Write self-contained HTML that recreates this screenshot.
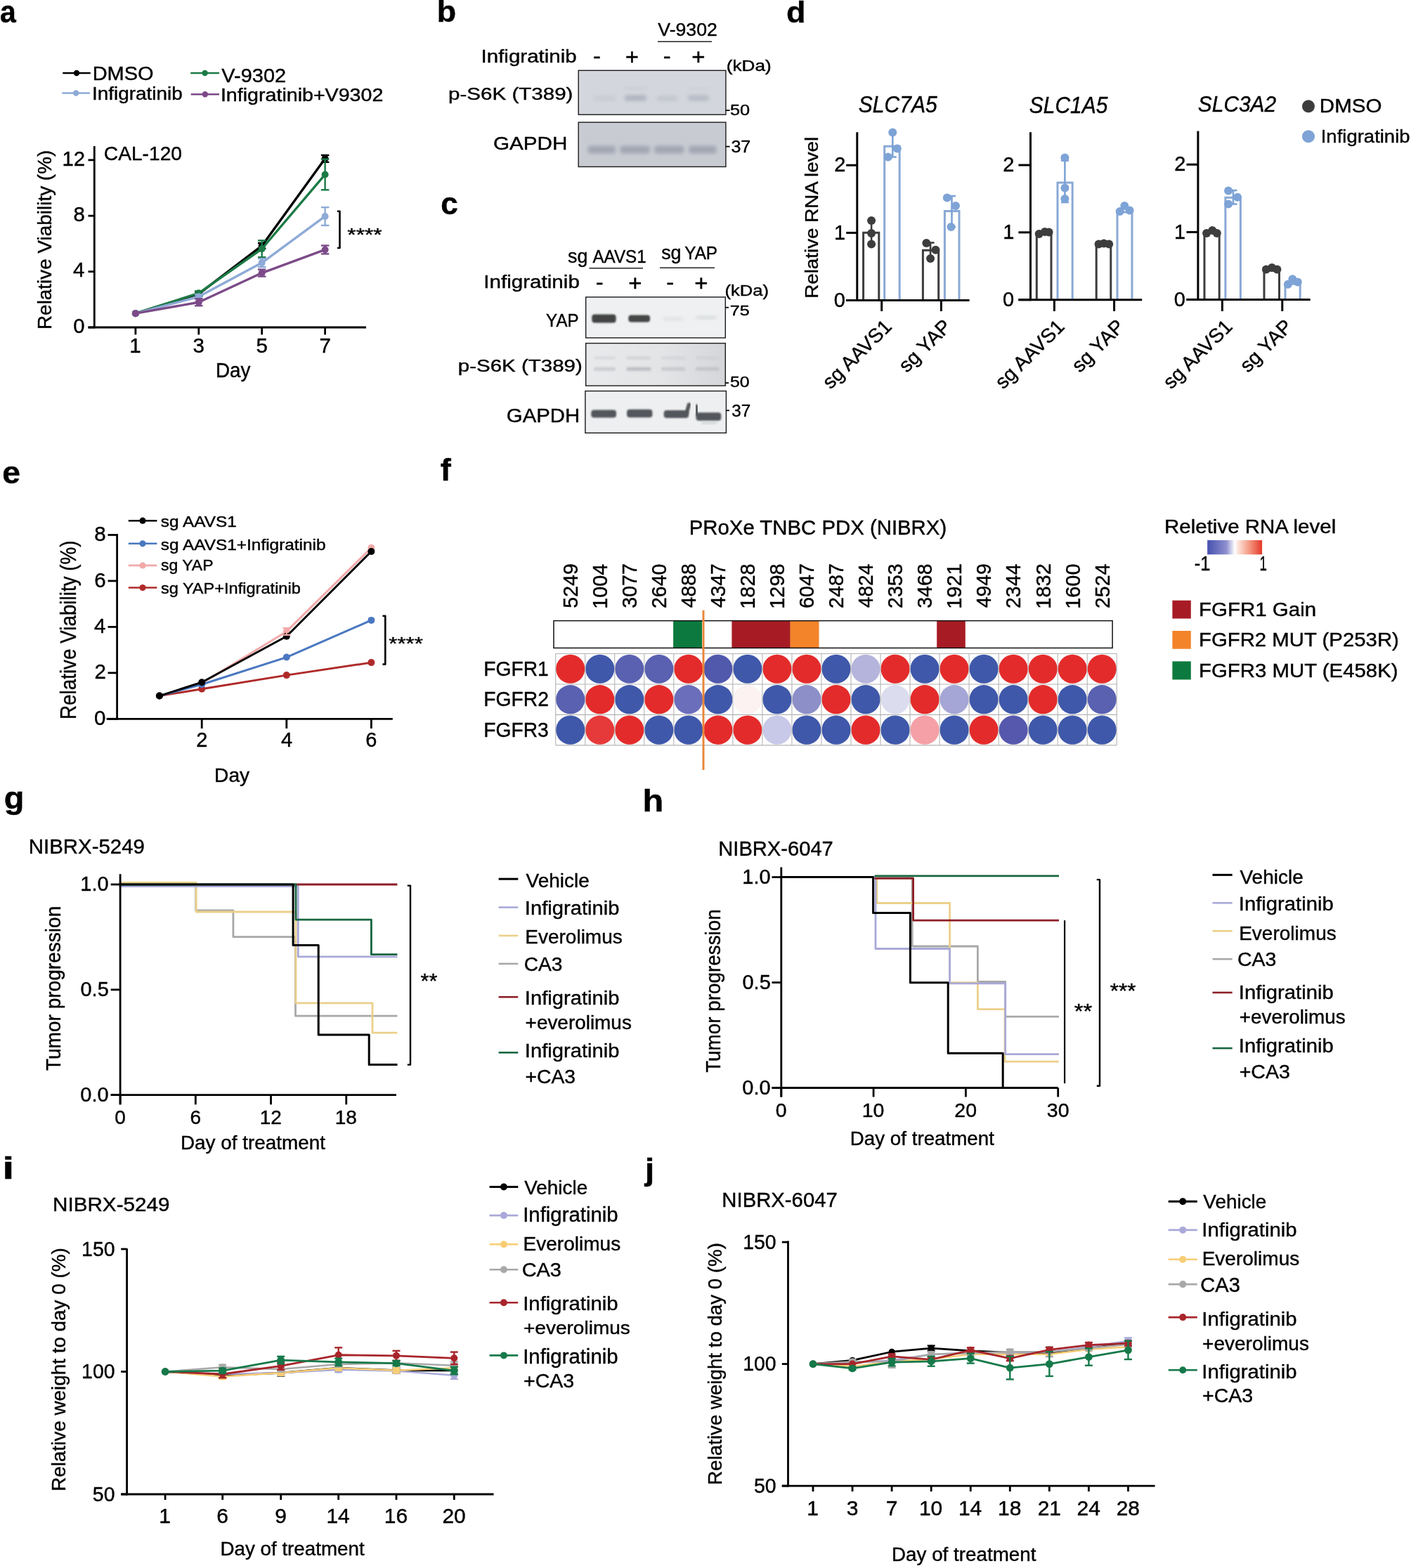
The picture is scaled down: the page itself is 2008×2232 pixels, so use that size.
<!DOCTYPE html>
<html><head><meta charset="utf-8"><style>
html,body{margin:0;padding:0;background:#fff;}
svg{display:block;}
text{font-family:"Liberation Sans", sans-serif;stroke:#000;stroke-width:0.4px;}
</style></head><body>
<svg width="2008" height="2232" viewBox="0 0 2008 2232">
<defs>
<filter id="bl05" x="-50%" y="-50%" width="200%" height="200%"><feGaussianBlur stdDeviation="0.8"/></filter>
<filter id="bl1" x="-50%" y="-50%" width="200%" height="200%"><feGaussianBlur stdDeviation="1.6"/></filter>
<filter id="bl2" x="-50%" y="-50%" width="200%" height="200%"><feGaussianBlur stdDeviation="2.5"/></filter>
<linearGradient id="cbar" x1="0" x2="1" y1="0" y2="0">
<stop offset="0" stop-color="#4650ad"/><stop offset="0.35" stop-color="#8f90d0"/><stop offset="0.5" stop-color="#ffffff"/><stop offset="0.56" stop-color="#fde4dc"/><stop offset="0.78" stop-color="#f3937c"/><stop offset="1" stop-color="#e4382a"/>
</linearGradient>
</defs>
<rect width="2008" height="2232" fill="#fff"/>
<text transform="translate(-0.03,31.56) scale(0.9342,1)" font-size="43.82" font-weight="bold" fill="#000">a</text>
<line x1="89.2" y1="104" x2="128.8" y2="104" stroke="#000" stroke-width="2.6" stroke-linecap="butt"/>
<circle cx="109" cy="104" r="4.2" fill="#000"/>
<line x1="271.2" y1="104" x2="312" y2="104" stroke="#1b7a45" stroke-width="2.6" stroke-linecap="butt"/>
<circle cx="291.6" cy="104" r="4.2" fill="#1b7a45"/>
<line x1="88.4" y1="132.5" x2="128" y2="132.5" stroke="#8eaad6" stroke-width="2.6" stroke-linecap="butt"/>
<circle cx="108.2" cy="132.5" r="4.2" fill="#8eaad6"/>
<line x1="271.7" y1="134.3" x2="312" y2="134.3" stroke="#7c4a88" stroke-width="2.6" stroke-linecap="butt"/>
<circle cx="291.85" cy="134.3" r="4.2" fill="#7c4a88"/>
<text transform="translate(131.68,113.5) scale(1.0502,1)" font-size="27.57" fill="#000">DMSO</text>
<text transform="translate(315.36,117.4) scale(1.0289,1)" font-size="28.14" fill="#000">V-9302</text>
<text transform="translate(130.99,141.7) scale(1.0660,1)" font-size="26.21" fill="#000">Infigratinib</text>
<text transform="translate(313.92,143.5) scale(1.0982,1)" font-size="26.07" fill="#000">Infigratinib+V9302</text>
<line x1="134.3" y1="208" x2="134.3" y2="467.3" stroke="#000" stroke-width="2.8" stroke-linecap="butt"/>
<line x1="125.5" y1="466" x2="521" y2="466" stroke="#000" stroke-width="2.8" stroke-linecap="butt"/>
<line x1="125.5" y1="466" x2="134.3" y2="466" stroke="#000" stroke-width="2.8" stroke-linecap="butt"/>
<line x1="125.5" y1="386.6" x2="134.3" y2="386.6" stroke="#000" stroke-width="2.8" stroke-linecap="butt"/>
<line x1="125.5" y1="307.2" x2="134.3" y2="307.2" stroke="#000" stroke-width="2.8" stroke-linecap="butt"/>
<line x1="125.5" y1="227.8" x2="134.3" y2="227.8" stroke="#000" stroke-width="2.8" stroke-linecap="butt"/>
<line x1="192.9" y1="466" x2="192.9" y2="476.4" stroke="#000" stroke-width="2.8" stroke-linecap="butt"/>
<line x1="282.8" y1="466" x2="282.8" y2="476.4" stroke="#000" stroke-width="2.8" stroke-linecap="butt"/>
<line x1="372.7" y1="466" x2="372.7" y2="476.4" stroke="#000" stroke-width="2.8" stroke-linecap="butt"/>
<line x1="462.6" y1="466" x2="462.6" y2="476.4" stroke="#000" stroke-width="2.8" stroke-linecap="butt"/>
<text transform="translate(104.26,473.75)" font-size="29.3" fill="#000">0</text>
<text transform="translate(104.12,394.36)" font-size="29.3" fill="#000">4</text>
<text transform="translate(104.41,314.95)" font-size="29.3" fill="#000">8</text>
<text transform="translate(88.44,235.55)" font-size="29.3" fill="#000">12</text>
<text transform="translate(184.27,501.9)" font-size="29.5" fill="#000">1</text>
<text transform="translate(274.61,501.9)" font-size="29.5" fill="#000">3</text>
<text transform="translate(364.51,501.9)" font-size="29.5" fill="#000">5</text>
<text transform="translate(454.41,501.9)" font-size="29.5" fill="#000">7</text>
<text transform="translate(306.97,536.5) scale(0.9457,1)" font-size="29.42" fill="#000">Day</text>
<text transform="translate(147.79,227.8) scale(0.9965,1)" font-size="28.29" fill="#000">CAL-120</text>
<text transform="translate(73.4,466.8) rotate(-90) translate(-2.23,0) scale(0.9773,1)" font-size="28.55" fill="#000">Relative Viability (%)</text>
<polyline points="192.9,446.15 282.8,418.36 372.7,349.88 462.6,225.81" fill="none" stroke="#000" stroke-width="3.4" stroke-linejoin="round"/>
<circle cx="192.9" cy="446.15" r="5" fill="#000"/>
<line x1="282.8" y1="415.38" x2="282.8" y2="421.34" stroke="#000" stroke-width="2.4" stroke-linecap="butt"/>
<line x1="277.05" y1="415.38" x2="288.55" y2="415.38" stroke="#000" stroke-width="2.4" stroke-linecap="butt"/>
<line x1="277.05" y1="421.34" x2="288.55" y2="421.34" stroke="#000" stroke-width="2.4" stroke-linecap="butt"/>
<circle cx="282.8" cy="418.36" r="5" fill="#000"/>
<line x1="372.7" y1="345.91" x2="372.7" y2="353.85" stroke="#000" stroke-width="2.4" stroke-linecap="butt"/>
<line x1="366.95" y1="345.91" x2="378.45" y2="345.91" stroke="#000" stroke-width="2.4" stroke-linecap="butt"/>
<line x1="366.95" y1="353.85" x2="378.45" y2="353.85" stroke="#000" stroke-width="2.4" stroke-linecap="butt"/>
<circle cx="372.7" cy="349.88" r="5" fill="#000"/>
<line x1="462.6" y1="220.85" x2="462.6" y2="230.78" stroke="#000" stroke-width="2.4" stroke-linecap="butt"/>
<line x1="456.85" y1="220.85" x2="468.35" y2="220.85" stroke="#000" stroke-width="2.4" stroke-linecap="butt"/>
<line x1="456.85" y1="230.78" x2="468.35" y2="230.78" stroke="#000" stroke-width="2.4" stroke-linecap="butt"/>
<circle cx="462.6" cy="225.81" r="5" fill="#000"/>
<polyline points="192.9,446.15 282.8,417.37 372.7,354.24 462.6,248.44" fill="none" stroke="#1b7a45" stroke-width="3.4" stroke-linejoin="round"/>
<circle cx="192.9" cy="446.15" r="5" fill="#1b7a45"/>
<line x1="282.8" y1="414.39" x2="282.8" y2="420.34" stroke="#1b7a45" stroke-width="2.4" stroke-linecap="butt"/>
<line x1="277.05" y1="414.39" x2="288.55" y2="414.39" stroke="#1b7a45" stroke-width="2.4" stroke-linecap="butt"/>
<line x1="277.05" y1="420.34" x2="288.55" y2="420.34" stroke="#1b7a45" stroke-width="2.4" stroke-linecap="butt"/>
<circle cx="282.8" cy="417.37" r="5" fill="#1b7a45"/>
<line x1="372.7" y1="342.33" x2="372.7" y2="366.15" stroke="#1b7a45" stroke-width="2.4" stroke-linecap="butt"/>
<line x1="366.95" y1="342.33" x2="378.45" y2="342.33" stroke="#1b7a45" stroke-width="2.4" stroke-linecap="butt"/>
<line x1="366.95" y1="366.15" x2="378.45" y2="366.15" stroke="#1b7a45" stroke-width="2.4" stroke-linecap="butt"/>
<circle cx="372.7" cy="354.24" r="5" fill="#1b7a45"/>
<line x1="462.6" y1="226.61" x2="462.6" y2="270.28" stroke="#1b7a45" stroke-width="2.4" stroke-linecap="butt"/>
<line x1="456.85" y1="226.61" x2="468.35" y2="226.61" stroke="#1b7a45" stroke-width="2.4" stroke-linecap="butt"/>
<line x1="456.85" y1="270.28" x2="468.35" y2="270.28" stroke="#1b7a45" stroke-width="2.4" stroke-linecap="butt"/>
<circle cx="462.6" cy="248.44" r="5" fill="#1b7a45"/>
<polyline points="192.9,446.15 282.8,422.33 372.7,374.09 462.6,307.99" fill="none" stroke="#8eaad6" stroke-width="3.4" stroke-linejoin="round"/>
<circle cx="192.9" cy="446.15" r="5" fill="#8eaad6"/>
<line x1="282.8" y1="419.35" x2="282.8" y2="425.31" stroke="#8eaad6" stroke-width="2.4" stroke-linecap="butt"/>
<line x1="277.05" y1="419.35" x2="288.55" y2="419.35" stroke="#8eaad6" stroke-width="2.4" stroke-linecap="butt"/>
<line x1="277.05" y1="425.31" x2="288.55" y2="425.31" stroke="#8eaad6" stroke-width="2.4" stroke-linecap="butt"/>
<circle cx="282.8" cy="422.33" r="5" fill="#8eaad6"/>
<line x1="372.7" y1="368.14" x2="372.7" y2="380.05" stroke="#8eaad6" stroke-width="2.4" stroke-linecap="butt"/>
<line x1="366.95" y1="368.14" x2="378.45" y2="368.14" stroke="#8eaad6" stroke-width="2.4" stroke-linecap="butt"/>
<line x1="366.95" y1="380.05" x2="378.45" y2="380.05" stroke="#8eaad6" stroke-width="2.4" stroke-linecap="butt"/>
<circle cx="372.7" cy="374.09" r="5" fill="#8eaad6"/>
<line x1="462.6" y1="295.09" x2="462.6" y2="320.9" stroke="#8eaad6" stroke-width="2.4" stroke-linecap="butt"/>
<line x1="456.85" y1="295.09" x2="468.35" y2="295.09" stroke="#8eaad6" stroke-width="2.4" stroke-linecap="butt"/>
<line x1="456.85" y1="320.9" x2="468.35" y2="320.9" stroke="#8eaad6" stroke-width="2.4" stroke-linecap="butt"/>
<circle cx="462.6" cy="307.99" r="5" fill="#8eaad6"/>
<polyline points="192.9,446.15 282.8,430.27 372.7,388.58 462.6,355.44" fill="none" stroke="#7c4a88" stroke-width="3.4" stroke-linejoin="round"/>
<circle cx="192.9" cy="446.15" r="5" fill="#7c4a88"/>
<line x1="282.8" y1="425.31" x2="282.8" y2="435.23" stroke="#7c4a88" stroke-width="2.4" stroke-linecap="butt"/>
<line x1="277.05" y1="425.31" x2="288.55" y2="425.31" stroke="#7c4a88" stroke-width="2.4" stroke-linecap="butt"/>
<line x1="277.05" y1="435.23" x2="288.55" y2="435.23" stroke="#7c4a88" stroke-width="2.4" stroke-linecap="butt"/>
<circle cx="282.8" cy="430.27" r="5" fill="#7c4a88"/>
<line x1="372.7" y1="383.62" x2="372.7" y2="393.55" stroke="#7c4a88" stroke-width="2.4" stroke-linecap="butt"/>
<line x1="366.95" y1="383.62" x2="378.45" y2="383.62" stroke="#7c4a88" stroke-width="2.4" stroke-linecap="butt"/>
<line x1="366.95" y1="393.55" x2="378.45" y2="393.55" stroke="#7c4a88" stroke-width="2.4" stroke-linecap="butt"/>
<circle cx="372.7" cy="388.58" r="5" fill="#7c4a88"/>
<line x1="462.6" y1="349.48" x2="462.6" y2="361.39" stroke="#7c4a88" stroke-width="2.4" stroke-linecap="butt"/>
<line x1="456.85" y1="349.48" x2="468.35" y2="349.48" stroke="#7c4a88" stroke-width="2.4" stroke-linecap="butt"/>
<line x1="456.85" y1="361.39" x2="468.35" y2="361.39" stroke="#7c4a88" stroke-width="2.4" stroke-linecap="butt"/>
<circle cx="462.6" cy="355.44" r="5" fill="#7c4a88"/>
<polyline points="480,300.7 483.5,300.7 483.5,353 480,353" fill="none" stroke="#000" stroke-width="2.6" stroke-linejoin="round"/>
<text transform="translate(494.32,343.15) scale(1.2597,1)" font-size="25.14" fill="#000">****</text>
<text transform="translate(621.68,31.47) scale(1.0555,1)" font-size="42.59" font-weight="bold" fill="#000">b</text>
<text transform="translate(936.37,51.4) scale(1.0137,1)" font-size="26.29" fill="#000">V-9302</text>
<line x1="936" y1="59.3" x2="1013" y2="59.3" stroke="#222" stroke-width="1.5" stroke-linecap="butt"/>
<text transform="translate(684.54,88.9) scale(1.1264,1)" font-size="26.21" fill="#000">Infigratinib</text>
<text transform="translate(844.03,89.09) scale(1.1874,1)" font-size="27.5" fill="#000">-</text>
<text transform="translate(889.85,92.06) scale(1.0777,1)" font-size="30.61" fill="#000">+</text>
<text transform="translate(943.83,89.09) scale(1.1874,1)" font-size="27.5" fill="#000">-</text>
<text transform="translate(984.35,92.06) scale(1.0777,1)" font-size="30.61" fill="#000">+</text>
<text transform="translate(1033.73,101.05) scale(1.2355,1)" font-size="21.18" fill="#000">(kDa)</text>
<rect x="823.2" y="100.3" width="209.7" height="62.9" fill="#d3d6dc" stroke="#1a1a1a" stroke-width="1.4"/>
<rect x="823.2" y="174.1" width="209.7" height="63.3" fill="#c8cbd2" stroke="#1a1a1a" stroke-width="1.4"/>
<rect x="845" y="136.5" width="31" height="7" rx="3" fill="#c4c7cf" opacity="0.7" filter="url(#bl2)"/>
<rect x="889" y="135.5" width="31" height="8" rx="3" fill="#a9adba" opacity="0.85" filter="url(#bl2)"/>
<rect x="935" y="136.5" width="29" height="7" rx="3" fill="#bcc0ca" opacity="0.75" filter="url(#bl2)"/>
<rect x="979" y="135.5" width="30" height="8" rx="3" fill="#b0b4c0" opacity="0.8" filter="url(#bl2)"/>
<rect x="889" y="124" width="31" height="4" rx="2" fill="#c4c7cf" opacity="0.6" filter="url(#bl2)"/>
<rect x="979" y="124" width="30" height="4" rx="2" fill="#c8cbd3" opacity="0.5" filter="url(#bl2)"/>
<rect x="836.4" y="207.5" width="39.6" height="11" rx="4" fill="#a1a5b1" opacity="0.95" filter="url(#bl2)"/>
<rect x="882.5" y="207.5" width="42.2" height="11" rx="4" fill="#a1a5b1" opacity="0.95" filter="url(#bl2)"/>
<rect x="931.3" y="207.5" width="42.2" height="11" rx="4" fill="#a1a5b1" opacity="0.95" filter="url(#bl2)"/>
<rect x="980" y="207.5" width="39.7" height="11" rx="4" fill="#a1a5b1" opacity="0.95" filter="url(#bl2)"/>
<line x1="1032.9" y1="157.1" x2="1038.6" y2="157.1" stroke="#000" stroke-width="1.8" stroke-linecap="butt"/>
<text transform="translate(1038.98,164.08) scale(1.1491,1)" font-size="22.11" fill="#000">50</text>
<text transform="translate(638.08,142) scale(1.2110,1)" font-size="24.41" fill="#000">p-S6K (T389)</text>
<line x1="1032.9" y1="208.6" x2="1038.6" y2="208.6" stroke="#000" stroke-width="1.8" stroke-linecap="butt"/>
<text transform="translate(1040.4,216.86) scale(1.0421,1)" font-size="24.08" fill="#000">37</text>
<text transform="translate(701.92,212.9) scale(1.1175,1)" font-size="26.57" fill="#000">GAPDH</text>
<text transform="translate(627.24,304.56) scale(1.0070,1)" font-size="43.82" font-weight="bold" fill="#000">c</text>
<text transform="translate(807.99,373.5) scale(0.9459,1)" font-size="28.41" fill="#000">sg</text>
<text transform="translate(843.4,373.5) scale(0.9327,1)" font-size="26" fill="#000">AAVS1</text>
<line x1="838.4" y1="381.8" x2="915" y2="381.8" stroke="#222" stroke-width="1.5" stroke-linecap="butt"/>
<text transform="translate(941.19,369.2) scale(0.9459,1)" font-size="28.41" fill="#000">sg</text>
<text transform="translate(974.29,369.2) scale(0.9201,1)" font-size="26.38" fill="#000">YAP</text>
<line x1="939" y1="381.3" x2="1017" y2="381.3" stroke="#222" stroke-width="1.5" stroke-linecap="butt"/>
<text transform="translate(688.34,410.4) scale(1.1595,1)" font-size="25.52" fill="#000">Infigratinib</text>
<text transform="translate(847.73,411.09) scale(1.1874,1)" font-size="27.5" fill="#000">-</text>
<text transform="translate(894.35,414.06) scale(1.0777,1)" font-size="30.61" fill="#000">+</text>
<text transform="translate(948.33,411.09) scale(1.1874,1)" font-size="27.5" fill="#000">-</text>
<text transform="translate(988.35,414.06) scale(1.0777,1)" font-size="30.61" fill="#000">+</text>
<text transform="translate(1031.46,420.78) scale(1.1400,1)" font-size="22.46" fill="#000">(kDa)</text>
<rect x="833.7" y="422.9" width="198.6" height="58" fill="#eef0f1" stroke="#1a1a1a" stroke-width="1.4"/>
<rect x="842.3" y="447.5" width="34.3" height="12" rx="4" fill="#3a3a3a" opacity="0.95" filter="url(#bl05)"/>
<rect x="894.3" y="448.6" width="30.8" height="10" rx="4" fill="#3e3e3e" opacity="0.95" filter="url(#bl05)"/>
<rect x="944" y="452" width="28" height="4" rx="2" fill="#d9dbdd" opacity="0.9" filter="url(#bl2)"/>
<rect x="990" y="450" width="30" height="4" rx="2" fill="#d3d5d8" opacity="0.9" filter="url(#bl2)"/>
<line x1="1032.3" y1="437.7" x2="1037" y2="437.7" stroke="#000" stroke-width="1.8" stroke-linecap="butt"/>
<text transform="translate(1038.74,448.89) scale(1.1917,1)" font-size="21.14" fill="#000">75</text>
<text transform="translate(777.1,465.1) scale(0.9190,1)" font-size="26.23" fill="#000">YAP</text>
<linearGradient id="gps6" x1="0" x2="1"><stop offset="0" stop-color="#e9eaec"/><stop offset="0.55" stop-color="#e3e4e6"/><stop offset="1" stop-color="#d5d6d9"/></linearGradient>
<rect x="833.7" y="488.6" width="198.6" height="60.5" fill="url(#gps6)" stroke="#1a1a1a" stroke-width="1.4"/>
<rect x="845" y="507.6" width="31" height="4" rx="2" fill="#c3c5c9" opacity="0.45" filter="url(#bl1)"/>
<rect x="845" y="522.8" width="31" height="5" rx="2" fill="#b4b6bb" opacity="0.55" filter="url(#bl1)"/>
<rect x="891.5" y="507.6" width="35.1" height="4" rx="2" fill="#c3c5c9" opacity="0.6" filter="url(#bl1)"/>
<rect x="891.5" y="522.8" width="35.1" height="5" rx="2" fill="#b4b6bb" opacity="0.85" filter="url(#bl1)"/>
<rect x="941" y="507.6" width="34.5" height="4" rx="2" fill="#c3c5c9" opacity="0.45" filter="url(#bl1)"/>
<rect x="941" y="522.8" width="34.5" height="5" rx="2" fill="#b4b6bb" opacity="0.55" filter="url(#bl1)"/>
<rect x="990" y="507.6" width="33.3" height="4" rx="2" fill="#c3c5c9" opacity="0.45" filter="url(#bl1)"/>
<rect x="990" y="522.8" width="33.3" height="5" rx="2" fill="#b4b6bb" opacity="0.6" filter="url(#bl1)"/>
<line x1="1032.3" y1="545.1" x2="1037" y2="545.1" stroke="#000" stroke-width="1.8" stroke-linecap="butt"/>
<text transform="translate(1039.01,550.69) scale(1.1599,1)" font-size="21.41" fill="#000">50</text>
<text transform="translate(651.78,528.6) scale(1.2089,1)" font-size="24.41" fill="#000">p-S6K (T389)</text>
<rect x="832.9" y="556.6" width="200.5" height="59.7" fill="#eeeff0" stroke="#1a1a1a" stroke-width="1.4"/>
<rect x="841.3" y="583.5" width="35.7" height="11" rx="4" fill="#53575b" opacity="1" filter="url(#bl05)"/>
<rect x="892.1" y="582.75" width="36.3" height="11.5" rx="4" fill="#53575b" opacity="1" filter="url(#bl05)"/>
<rect x="944.7" y="584" width="35.3" height="11" rx="4" fill="#53575b" opacity="1" filter="url(#bl05)"/>
<line x1="977" y1="588" x2="980.5" y2="576" stroke="#53575b" stroke-width="5.5" stroke-linecap="round" filter="url(#bl05)"/>
<rect x="990.5" y="587.25" width="35.8" height="11.5" rx="4" fill="#53575b" opacity="1" filter="url(#bl05)"/>
<line x1="992" y1="590" x2="991" y2="578" stroke="#53575b" stroke-width="5" stroke-linecap="round" filter="url(#bl05)"/>
<rect x="998" y="600.5" width="22" height="3" rx="1.5" fill="#c8cacd" opacity="0.8" filter="url(#bl1)"/>
<line x1="1033.4" y1="584.3" x2="1038" y2="584.3" stroke="#000" stroke-width="1.8" stroke-linecap="butt"/>
<text transform="translate(1041.33,592.66) scale(1.0036,1)" font-size="24.23" fill="#000">37</text>
<text transform="translate(720.83,600.6) scale(1.0709,1)" font-size="27.43" fill="#000">GAPDH</text>
<text transform="translate(1119,32.37) scale(1.0390,1)" font-size="43.27" font-weight="bold" fill="#000">d</text>
<path d="M1228.6,427.5 V331.35 H1250.8 V427.5" fill="none" stroke="#3d3d3d" stroke-width="3"/>
<path d="M1258.7,427.5 V208.28 H1280.2 V427.5" fill="none" stroke="#8aa9d6" stroke-width="3"/>
<path d="M1313.4,427.5 V356.35 H1335.7 V427.5" fill="none" stroke="#3d3d3d" stroke-width="3"/>
<path d="M1344.4,427.5 V300.58 H1365 V427.5" fill="none" stroke="#8aa9d6" stroke-width="3"/>
<line x1="1240.1" y1="314" x2="1240.1" y2="348" stroke="#3d3d3d" stroke-width="2.6" stroke-linecap="butt"/>
<line x1="1234.6" y1="314" x2="1245.6" y2="314" stroke="#3d3d3d" stroke-width="2.6" stroke-linecap="butt"/>
<line x1="1234.6" y1="348" x2="1245.6" y2="348" stroke="#3d3d3d" stroke-width="2.6" stroke-linecap="butt"/>
<line x1="1270.3" y1="188" x2="1270.3" y2="223.5" stroke="#7ea3d6" stroke-width="2.6" stroke-linecap="butt"/>
<line x1="1264.8" y1="188" x2="1275.8" y2="188" stroke="#7ea3d6" stroke-width="2.6" stroke-linecap="butt"/>
<line x1="1264.8" y1="223.5" x2="1275.8" y2="223.5" stroke="#7ea3d6" stroke-width="2.6" stroke-linecap="butt"/>
<line x1="1324.1" y1="345.5" x2="1324.1" y2="368" stroke="#3d3d3d" stroke-width="2.6" stroke-linecap="butt"/>
<line x1="1318.6" y1="345.5" x2="1329.6" y2="345.5" stroke="#3d3d3d" stroke-width="2.6" stroke-linecap="butt"/>
<line x1="1318.6" y1="368" x2="1329.6" y2="368" stroke="#3d3d3d" stroke-width="2.6" stroke-linecap="butt"/>
<line x1="1354.5" y1="279" x2="1354.5" y2="323" stroke="#7ea3d6" stroke-width="2.6" stroke-linecap="butt"/>
<line x1="1349" y1="279" x2="1360" y2="279" stroke="#7ea3d6" stroke-width="2.6" stroke-linecap="butt"/>
<line x1="1349" y1="323" x2="1360" y2="323" stroke="#7ea3d6" stroke-width="2.6" stroke-linecap="butt"/>
<circle cx="1240.1" cy="314.1" r="6" fill="#3d3d3d"/>
<circle cx="1240.1" cy="332" r="6" fill="#3d3d3d"/>
<circle cx="1240.1" cy="347.6" r="6" fill="#3d3d3d"/>
<circle cx="1270.3" cy="188.5" r="6" fill="#7ea3d6"/>
<circle cx="1276.8" cy="211.4" r="6" fill="#7ea3d6"/>
<circle cx="1263.8" cy="223.6" r="6" fill="#7ea3d6"/>
<circle cx="1318.4" cy="345.9" r="6" fill="#3d3d3d"/>
<circle cx="1331.5" cy="355.7" r="6" fill="#3d3d3d"/>
<circle cx="1324.1" cy="368" r="6" fill="#3d3d3d"/>
<circle cx="1347.8" cy="281.5" r="6" fill="#7ea3d6"/>
<circle cx="1360" cy="292.9" r="6" fill="#7ea3d6"/>
<circle cx="1353.5" cy="323.1" r="6" fill="#7ea3d6"/>
<line x1="1219.8" y1="188.2" x2="1219.8" y2="429" stroke="#000" stroke-width="3" stroke-linecap="butt"/>
<line x1="1204.2" y1="427.5" x2="1379.6" y2="427.5" stroke="#000" stroke-width="3" stroke-linecap="butt"/>
<line x1="1204.2" y1="427.5" x2="1219.8" y2="427.5" stroke="#000" stroke-width="3" stroke-linecap="butt"/>
<line x1="1204.2" y1="331.4" x2="1219.8" y2="331.4" stroke="#000" stroke-width="3" stroke-linecap="butt"/>
<line x1="1204.2" y1="235.2" x2="1219.8" y2="235.2" stroke="#000" stroke-width="3" stroke-linecap="butt"/>
<line x1="1254.7" y1="427.5" x2="1254.7" y2="443" stroke="#000" stroke-width="3" stroke-linecap="butt"/>
<line x1="1339.4" y1="427.5" x2="1339.4" y2="443" stroke="#000" stroke-width="3" stroke-linecap="butt"/>
<text transform="translate(1186.72,436.65)" font-size="29" fill="#000">0</text>
<text transform="translate(1187.01,340.55)" font-size="29" fill="#000">1</text>
<text transform="translate(1187.15,244.35)" font-size="29" fill="#000">2</text>
<text transform="translate(1221.8,160) scale(0.9187,1)" font-size="32.71" font-style="italic" fill="#000">SLC7A5</text>
<text transform="translate(1270.7,466.5) rotate(-45)" font-size="28.3" text-anchor="end" fill="#000">sg AAVS1</text>
<text transform="translate(1355.4,466.5) rotate(-45)" font-size="28.3" text-anchor="end" fill="#000">sg YAP</text>
<path d="M1475.3,426.7 V331.81 H1496 V426.7" fill="none" stroke="#3d3d3d" stroke-width="3"/>
<path d="M1505,426.7 V259.92 H1526.2 V426.7" fill="none" stroke="#8aa9d6" stroke-width="3"/>
<path d="M1560.2,426.7 V348.1 H1580.8 V426.7" fill="none" stroke="#3d3d3d" stroke-width="3"/>
<path d="M1590,426.7 V302.1 H1611 V426.7" fill="none" stroke="#8aa9d6" stroke-width="3"/>
<line x1="1515.4" y1="228.5" x2="1515.4" y2="288" stroke="#7ea3d6" stroke-width="2.6" stroke-linecap="butt"/>
<line x1="1509.9" y1="228.5" x2="1520.9" y2="228.5" stroke="#7ea3d6" stroke-width="2.6" stroke-linecap="butt"/>
<line x1="1509.9" y1="288" x2="1520.9" y2="288" stroke="#7ea3d6" stroke-width="2.6" stroke-linecap="butt"/>
<circle cx="1478.7" cy="333" r="6" fill="#3d3d3d"/>
<circle cx="1486.9" cy="330" r="6" fill="#3d3d3d"/>
<circle cx="1492.6" cy="330.5" r="6" fill="#3d3d3d"/>
<circle cx="1515.4" cy="224.4" r="6" fill="#7ea3d6"/>
<circle cx="1515.4" cy="267.6" r="6" fill="#7ea3d6"/>
<circle cx="1515.4" cy="283.1" r="6" fill="#7ea3d6"/>
<circle cx="1563.6" cy="347.6" r="6" fill="#3d3d3d"/>
<circle cx="1570.9" cy="346.5" r="6" fill="#3d3d3d"/>
<circle cx="1578.2" cy="347.6" r="6" fill="#3d3d3d"/>
<circle cx="1593.7" cy="301" r="6" fill="#7ea3d6"/>
<circle cx="1600.3" cy="292.9" r="6" fill="#7ea3d6"/>
<circle cx="1607.6" cy="299.4" r="6" fill="#7ea3d6"/>
<line x1="1466.5" y1="188.2" x2="1466.5" y2="428.2" stroke="#000" stroke-width="3" stroke-linecap="butt"/>
<line x1="1449.4" y1="426.7" x2="1625.2" y2="426.7" stroke="#000" stroke-width="3" stroke-linecap="butt"/>
<line x1="1449.4" y1="426.7" x2="1466.5" y2="426.7" stroke="#000" stroke-width="3" stroke-linecap="butt"/>
<line x1="1449.4" y1="330.8" x2="1466.5" y2="330.8" stroke="#000" stroke-width="3" stroke-linecap="butt"/>
<line x1="1449.4" y1="235" x2="1466.5" y2="235" stroke="#000" stroke-width="3" stroke-linecap="butt"/>
<line x1="1500.4" y1="426.7" x2="1500.4" y2="443" stroke="#000" stroke-width="3" stroke-linecap="butt"/>
<line x1="1585.6" y1="426.7" x2="1585.6" y2="443" stroke="#000" stroke-width="3" stroke-linecap="butt"/>
<text transform="translate(1426.92,435.85)" font-size="29" fill="#000">0</text>
<text transform="translate(1427.21,339.95)" font-size="29" fill="#000">1</text>
<text transform="translate(1427.36,244.15)" font-size="29" fill="#000">2</text>
<text transform="translate(1464.8,160.8) scale(0.9162,1)" font-size="32.71" font-style="italic" fill="#000">SLC1A5</text>
<text transform="translate(1516.4,466.5) rotate(-45)" font-size="28.3" text-anchor="end" fill="#000">sg AAVS1</text>
<text transform="translate(1601.6,466.5) rotate(-45)" font-size="28.3" text-anchor="end" fill="#000">sg YAP</text>
<path d="M1714,426.4 V330.3 H1735.2 V426.4" fill="none" stroke="#3d3d3d" stroke-width="3"/>
<path d="M1743.9,426.4 V281.29 H1765.4 V426.4" fill="none" stroke="#8aa9d6" stroke-width="3"/>
<path d="M1799,426.4 V385.08 H1820.5 V426.4" fill="none" stroke="#3d3d3d" stroke-width="3"/>
<path d="M1829,426.4 V404.3 H1850.2 V426.4" fill="none" stroke="#8aa9d6" stroke-width="3"/>
<line x1="1755" y1="271" x2="1755" y2="290.5" stroke="#7ea3d6" stroke-width="2.6" stroke-linecap="butt"/>
<line x1="1749.5" y1="271" x2="1760.5" y2="271" stroke="#7ea3d6" stroke-width="2.6" stroke-linecap="butt"/>
<line x1="1749.5" y1="290.5" x2="1760.5" y2="290.5" stroke="#7ea3d6" stroke-width="2.6" stroke-linecap="butt"/>
<circle cx="1717.1" cy="332.1" r="6" fill="#3d3d3d"/>
<circle cx="1725.3" cy="328" r="6" fill="#3d3d3d"/>
<circle cx="1731.8" cy="332.1" r="6" fill="#3d3d3d"/>
<circle cx="1748.1" cy="271.4" r="6" fill="#7ea3d6"/>
<circle cx="1761.1" cy="280.7" r="6" fill="#7ea3d6"/>
<circle cx="1748.1" cy="290.5" r="6" fill="#7ea3d6"/>
<circle cx="1801.9" cy="383.5" r="6" fill="#3d3d3d"/>
<circle cx="1810.1" cy="381" r="6" fill="#3d3d3d"/>
<circle cx="1817.4" cy="383.5" r="6" fill="#3d3d3d"/>
<circle cx="1832.9" cy="404.7" r="6" fill="#7ea3d6"/>
<circle cx="1839.4" cy="397.3" r="6" fill="#7ea3d6"/>
<circle cx="1846.8" cy="401.4" r="6" fill="#7ea3d6"/>
<line x1="1704.9" y1="186.6" x2="1704.9" y2="427.9" stroke="#000" stroke-width="3" stroke-linecap="butt"/>
<line x1="1688.5" y1="426.4" x2="1864.7" y2="426.4" stroke="#000" stroke-width="3" stroke-linecap="butt"/>
<line x1="1688.5" y1="426.4" x2="1704.9" y2="426.4" stroke="#000" stroke-width="3" stroke-linecap="butt"/>
<line x1="1688.5" y1="330.4" x2="1704.9" y2="330.4" stroke="#000" stroke-width="3" stroke-linecap="butt"/>
<line x1="1688.5" y1="234.2" x2="1704.9" y2="234.2" stroke="#000" stroke-width="3" stroke-linecap="butt"/>
<line x1="1739.4" y1="426.4" x2="1739.4" y2="443" stroke="#000" stroke-width="3" stroke-linecap="butt"/>
<line x1="1824.8" y1="426.4" x2="1824.8" y2="443" stroke="#000" stroke-width="3" stroke-linecap="butt"/>
<text transform="translate(1670.72,435.55)" font-size="29" fill="#000">0</text>
<text transform="translate(1671.01,339.55)" font-size="29" fill="#000">1</text>
<text transform="translate(1671.15,243.35)" font-size="29" fill="#000">2</text>
<text transform="translate(1704.8,159.2) scale(0.9476,1)" font-size="31.57" font-style="italic" fill="#000">SLC3A2</text>
<text transform="translate(1755.4,466.5) rotate(-45)" font-size="28.3" text-anchor="end" fill="#000">sg AAVS1</text>
<text transform="translate(1840.8,466.5) rotate(-45)" font-size="28.3" text-anchor="end" fill="#000">sg YAP</text>
<text transform="translate(1163.5,422.6) rotate(-90) translate(-2.22,0) scale(1.0596,1)" font-size="26.21" fill="#000">Relative RNA level</text>
<circle cx="1862" cy="151.3" r="9" fill="#3d3d3d"/>
<circle cx="1862" cy="194.2" r="9" fill="#7ea3d6"/>
<text transform="translate(1877.84,160) scale(1.1002,1)" font-size="26.86" fill="#000">DMSO</text>
<text transform="translate(1879.73,203.3) scale(1.0602,1)" font-size="25.93" fill="#000">Infigratinib</text>
<text transform="translate(3.25,687.55) scale(1.0383,1)" font-size="44.55" font-weight="bold" fill="#000">e</text>
<line x1="182.8" y1="741.2" x2="223.4" y2="741.2" stroke="#000" stroke-width="2.6" stroke-linecap="butt"/>
<circle cx="203" cy="741.2" r="4.6" fill="#000"/>
<line x1="182.8" y1="773.8" x2="223.4" y2="773.8" stroke="#4a78c0" stroke-width="2.6" stroke-linecap="butt"/>
<circle cx="203" cy="773.8" r="4.6" fill="#4a78c0"/>
<line x1="182.8" y1="804.9" x2="223.4" y2="804.9" stroke="#f2a9a9" stroke-width="2.6" stroke-linecap="butt"/>
<circle cx="203" cy="804.9" r="4.6" fill="#f2a9a9"/>
<line x1="182.8" y1="836.5" x2="223.4" y2="836.5" stroke="#b02a2a" stroke-width="2.6" stroke-linecap="butt"/>
<circle cx="203" cy="836.5" r="4.6" fill="#b02a2a"/>
<text transform="translate(228.87,750) scale(1.1380,1)" font-size="21.43" fill="#000">sg AAVS1</text>
<text transform="translate(228.87,782.8) scale(1.1411,1)" font-size="21.38" fill="#000">sg AAVS1+Infigratinib</text>
<text transform="translate(228.91,812.3) scale(1.0583,1)" font-size="21.74" fill="#000">sg YAP</text>
<text transform="translate(228.89,844.6) scale(1.0620,1)" font-size="22.21" fill="#000">sg YAP+Infigratinib</text>
<line x1="166.6" y1="760" x2="166.6" y2="1024.7" stroke="#000" stroke-width="2.8" stroke-linecap="butt"/>
<line x1="151.6" y1="1023.3" x2="558.8" y2="1023.3" stroke="#000" stroke-width="2.8" stroke-linecap="butt"/>
<line x1="153.5" y1="1023.3" x2="166.6" y2="1023.3" stroke="#000" stroke-width="2.8" stroke-linecap="butt"/>
<text transform="translate(134.06,1031.92)" font-size="29.5" fill="#000">0</text>
<line x1="153.5" y1="957.84" x2="166.6" y2="957.84" stroke="#000" stroke-width="2.8" stroke-linecap="butt"/>
<text transform="translate(134.5,966.46)" font-size="29.5" fill="#000">2</text>
<line x1="153.5" y1="892.38" x2="166.6" y2="892.38" stroke="#000" stroke-width="2.8" stroke-linecap="butt"/>
<text transform="translate(133.91,901)" font-size="29.5" fill="#000">4</text>
<line x1="153.5" y1="826.92" x2="166.6" y2="826.92" stroke="#000" stroke-width="2.8" stroke-linecap="butt"/>
<text transform="translate(134.21,835.54)" font-size="29.5" fill="#000">6</text>
<line x1="153.5" y1="761.46" x2="166.6" y2="761.46" stroke="#000" stroke-width="2.8" stroke-linecap="butt"/>
<text transform="translate(134.21,770.09)" font-size="29.5" fill="#000">8</text>
<line x1="287.2" y1="1023.3" x2="287.2" y2="1037" stroke="#000" stroke-width="2.8" stroke-linecap="butt"/>
<text transform="translate(279.15,1063.1)" font-size="29" fill="#000">2</text>
<line x1="407.8" y1="1023.3" x2="407.8" y2="1037" stroke="#000" stroke-width="2.8" stroke-linecap="butt"/>
<text transform="translate(399.9,1063.1)" font-size="29" fill="#000">4</text>
<line x1="528.4" y1="1023.3" x2="528.4" y2="1037" stroke="#000" stroke-width="2.8" stroke-linecap="butt"/>
<text transform="translate(520.21,1063.1)" font-size="29" fill="#000">6</text>
<text transform="translate(305.05,1112.9) scale(0.9869,1)" font-size="28.55" fill="#000">Day</text>
<text transform="translate(108.2,1021.8) rotate(-90) translate(-2.23,0) scale(0.8930,1)" font-size="31.17" fill="#000">Relative Viability (%)</text>
<polyline points="226.9,990.57 287.2,972.57 407.8,898.93 528.4,779.79" fill="none" stroke="#f2a9a9" stroke-width="3" stroke-linejoin="round"/>
<circle cx="226.9" cy="990.57" r="5" fill="#f2a9a9"/>
<circle cx="287.2" cy="972.57" r="5" fill="#f2a9a9"/>
<circle cx="407.8" cy="898.93" r="5" fill="#f2a9a9"/>
<circle cx="528.4" cy="779.79" r="5" fill="#f2a9a9"/>
<polyline points="226.9,990.57 287.2,980.75 407.8,961.11 528.4,943.11" fill="none" stroke="#b02a2a" stroke-width="3" stroke-linejoin="round"/>
<circle cx="226.9" cy="990.57" r="5" fill="#b02a2a"/>
<circle cx="287.2" cy="980.75" r="5" fill="#b02a2a"/>
<circle cx="407.8" cy="961.11" r="5" fill="#b02a2a"/>
<circle cx="528.4" cy="943.11" r="5" fill="#b02a2a"/>
<polyline points="226.9,990.57 287.2,974.2 407.8,935.58 528.4,882.89" fill="none" stroke="#4a78c0" stroke-width="3" stroke-linejoin="round"/>
<circle cx="226.9" cy="990.57" r="5" fill="#4a78c0"/>
<circle cx="287.2" cy="974.2" r="5" fill="#4a78c0"/>
<circle cx="407.8" cy="935.58" r="5" fill="#4a78c0"/>
<circle cx="528.4" cy="882.89" r="5" fill="#4a78c0"/>
<polyline points="226.9,990.57 287.2,971.26 407.8,905.8 528.4,785.03" fill="none" stroke="#000" stroke-width="3" stroke-linejoin="round"/>
<circle cx="226.9" cy="990.57" r="5" fill="#000"/>
<circle cx="287.2" cy="971.26" r="5" fill="#000"/>
<circle cx="407.8" cy="905.8" r="5" fill="#000"/>
<circle cx="528.4" cy="785.03" r="5" fill="#000"/>
<line x1="407.8" y1="894.02" x2="407.8" y2="903.84" stroke="#f2a9a9" stroke-width="2.2" stroke-linecap="butt"/>
<line x1="402.3" y1="894.02" x2="413.3" y2="894.02" stroke="#f2a9a9" stroke-width="2.2" stroke-linecap="butt"/>
<line x1="402.3" y1="903.84" x2="413.3" y2="903.84" stroke="#f2a9a9" stroke-width="2.2" stroke-linecap="butt"/>
<polyline points="544.5,876.8 548.3,876.8 548.3,945.6 544.5,945.6" fill="none" stroke="#000" stroke-width="2.6" stroke-linejoin="round"/>
<text transform="translate(553.23,924.95) scale(1.2583,1)" font-size="24.86" fill="#000">****</text>
<text transform="translate(626.82,684) scale(1.0266,1)" font-size="44.14" font-weight="bold" fill="#000">f</text>
<text transform="translate(980.75,761.1) scale(1.0234,1)" font-size="28.69" fill="#000">PRoXe TNBC PDX (NIBRX)</text>
<text transform="translate(822.01,864.6) rotate(-90) translate(-1.14,0) scale(0.9609,1)" font-size="29.71" fill="#000">5249</text>
<text transform="translate(864.04,864.6) rotate(-90) translate(-2.16,0) scale(0.9699,1)" font-size="29.71" fill="#000">1004</text>
<text transform="translate(906.08,864.6) rotate(-90) translate(-1.14,0) scale(0.9631,1)" font-size="29.71" fill="#000">3077</text>
<text transform="translate(948.11,864.6) rotate(-90) translate(-1.43,0) scale(0.9609,1)" font-size="29.71" fill="#000">2640</text>
<text transform="translate(990.13,864.6) rotate(-90) translate(-0.56,0) scale(0.9498,1)" font-size="29.71" fill="#000">4888</text>
<text transform="translate(1032.16,864.6) rotate(-90) translate(-0.57,0) scale(0.9542,1)" font-size="29.71" fill="#000">4347</text>
<text transform="translate(1074.19,864.6) rotate(-90) translate(-2.17,0) scale(0.9745,1)" font-size="29.71" fill="#000">1828</text>
<text transform="translate(1116.23,864.6) rotate(-90) translate(-2.17,0) scale(0.9745,1)" font-size="29.71" fill="#000">1298</text>
<text transform="translate(1158.25,864.6) rotate(-90) translate(-1.44,0) scale(0.9676,1)" font-size="29.71" fill="#000">6047</text>
<text transform="translate(1200.29,864.6) rotate(-90) translate(-1.44,0) scale(0.9676,1)" font-size="29.71" fill="#000">2487</text>
<text transform="translate(1242.32,864.6) rotate(-90) translate(-0.56,0) scale(0.9454,1)" font-size="29.71" fill="#000">4824</text>
<text transform="translate(1284.35,864.6) rotate(-90) translate(-1.43,0) scale(0.9631,1)" font-size="29.71" fill="#000">2353</text>
<text transform="translate(1326.38,864.6) rotate(-90) translate(-1.14,0) scale(0.9586,1)" font-size="29.71" fill="#000">3468</text>
<text transform="translate(1368.4,864.6) rotate(-90) translate(-2.18,0) scale(0.9768,1)" font-size="29.71" fill="#000">1921</text>
<text transform="translate(1410.44,864.6) rotate(-90) translate(-0.57,0) scale(0.9520,1)" font-size="29.71" fill="#000">4949</text>
<text transform="translate(1452.46,864.6) rotate(-90) translate(-1.42,0) scale(0.9586,1)" font-size="29.71" fill="#000">2344</text>
<text transform="translate(1494.5,864.6) rotate(-90) translate(-2.18,0) scale(0.9792,1)" font-size="29.71" fill="#000">1832</text>
<text transform="translate(1536.52,864.6) rotate(-90) translate(-2.17,0) scale(0.9722,1)" font-size="29.71" fill="#000">1600</text>
<text transform="translate(1578.56,864.6) rotate(-90) translate(-1.42,0) scale(0.9586,1)" font-size="29.71" fill="#000">2524</text>
<rect x="788" y="883.6" width="795.1" height="38.8" fill="#fff" stroke="none" stroke-width="0"/>
<rect x="958.1" y="883.6" width="40.9" height="38.8" fill="#0c7a3e" stroke="none" stroke-width="0"/>
<rect x="1041.4" y="883.6" width="83.4" height="38.8" fill="#a71c24" stroke="none" stroke-width="0"/>
<rect x="1124.6" y="883.6" width="40.9" height="38.8" fill="#f3842a" stroke="none" stroke-width="0"/>
<rect x="1333.2" y="883.6" width="40.6" height="38.8" fill="#a71c24" stroke="none" stroke-width="0"/>
<rect x="788" y="883.6" width="795.1" height="38.8" fill="none" stroke="#111" stroke-width="1.5"/>
<rect x="790.7" y="930.5" width="798.57" height="130.35" fill="#fff" stroke="none" stroke-width="0"/>
<circle cx="811.72" cy="952.23" r="20.6" fill="#e42b2b"/>
<circle cx="853.75" cy="952.23" r="20.6" fill="#3f58aa"/>
<circle cx="895.78" cy="952.23" r="20.6" fill="#5a61b1"/>
<circle cx="937.81" cy="952.23" r="20.6" fill="#5a61b1"/>
<circle cx="979.84" cy="952.23" r="20.6" fill="#e42b2b"/>
<circle cx="1021.87" cy="952.23" r="20.6" fill="#5159ad"/>
<circle cx="1063.89" cy="952.23" r="20.6" fill="#3f58aa"/>
<circle cx="1105.93" cy="952.23" r="20.6" fill="#e42b2b"/>
<circle cx="1147.95" cy="952.23" r="20.6" fill="#e42b2b"/>
<circle cx="1189.99" cy="952.23" r="20.6" fill="#3f58aa"/>
<circle cx="1232.02" cy="952.23" r="20.6" fill="#b4b4dc"/>
<circle cx="1274.05" cy="952.23" r="20.6" fill="#e42b2b"/>
<circle cx="1316.08" cy="952.23" r="20.6" fill="#3f58aa"/>
<circle cx="1358.11" cy="952.23" r="20.6" fill="#e42b2b"/>
<circle cx="1400.14" cy="952.23" r="20.6" fill="#3f58aa"/>
<circle cx="1442.16" cy="952.23" r="20.6" fill="#e42b2b"/>
<circle cx="1484.2" cy="952.23" r="20.6" fill="#e42b2b"/>
<circle cx="1526.22" cy="952.23" r="20.6" fill="#e42b2b"/>
<circle cx="1568.26" cy="952.23" r="20.6" fill="#e42b2b"/>
<circle cx="811.72" cy="995.67" r="20.6" fill="#5a61b1"/>
<circle cx="853.75" cy="995.67" r="20.6" fill="#e42b2b"/>
<circle cx="895.78" cy="995.67" r="20.6" fill="#3f58aa"/>
<circle cx="937.81" cy="995.67" r="20.6" fill="#e42b2b"/>
<circle cx="979.84" cy="995.67" r="20.6" fill="#6b6fbb"/>
<circle cx="1021.87" cy="995.67" r="20.6" fill="#3f58aa"/>
<circle cx="1063.89" cy="995.67" r="20.6" fill="#fcf2f2"/>
<circle cx="1105.93" cy="995.67" r="20.6" fill="#3f58aa"/>
<circle cx="1147.95" cy="995.67" r="20.6" fill="#8d8fc9"/>
<circle cx="1189.99" cy="995.67" r="20.6" fill="#e42b2b"/>
<circle cx="1232.02" cy="995.67" r="20.6" fill="#3f58aa"/>
<circle cx="1274.05" cy="995.67" r="20.6" fill="#dcdcef"/>
<circle cx="1316.08" cy="995.67" r="20.6" fill="#e42b2b"/>
<circle cx="1358.11" cy="995.67" r="20.6" fill="#a5a6d5"/>
<circle cx="1400.14" cy="995.67" r="20.6" fill="#3f58aa"/>
<circle cx="1442.16" cy="995.67" r="20.6" fill="#3f58aa"/>
<circle cx="1484.2" cy="995.67" r="20.6" fill="#e42b2b"/>
<circle cx="1526.22" cy="995.67" r="20.6" fill="#3f58aa"/>
<circle cx="1568.26" cy="995.67" r="20.6" fill="#5a61b1"/>
<circle cx="811.72" cy="1039.12" r="20.6" fill="#3f58aa"/>
<circle cx="853.75" cy="1039.12" r="20.6" fill="#e63a3a"/>
<circle cx="895.78" cy="1039.12" r="20.6" fill="#e42b2b"/>
<circle cx="937.81" cy="1039.12" r="20.6" fill="#3f58aa"/>
<circle cx="979.84" cy="1039.12" r="20.6" fill="#3f58aa"/>
<circle cx="1021.87" cy="1039.12" r="20.6" fill="#e42b2b"/>
<circle cx="1063.89" cy="1039.12" r="20.6" fill="#e42b2b"/>
<circle cx="1105.93" cy="1039.12" r="20.6" fill="#c8c8e8"/>
<circle cx="1147.95" cy="1039.12" r="20.6" fill="#3f58aa"/>
<circle cx="1189.99" cy="1039.12" r="20.6" fill="#3f58aa"/>
<circle cx="1232.02" cy="1039.12" r="20.6" fill="#e42b2b"/>
<circle cx="1274.05" cy="1039.12" r="20.6" fill="#3f58aa"/>
<circle cx="1316.08" cy="1039.12" r="20.6" fill="#f4a0a6"/>
<circle cx="1358.11" cy="1039.12" r="20.6" fill="#3f58aa"/>
<circle cx="1400.14" cy="1039.12" r="20.6" fill="#e42b2b"/>
<circle cx="1442.16" cy="1039.12" r="20.6" fill="#5558ad"/>
<circle cx="1484.2" cy="1039.12" r="20.6" fill="#3f58aa"/>
<circle cx="1526.22" cy="1039.12" r="20.6" fill="#3f58aa"/>
<circle cx="1568.26" cy="1039.12" r="20.6" fill="#3f58aa"/>
<line x1="790.7" y1="930.5" x2="790.7" y2="1060.85" stroke="#b3b3b3" stroke-width="1.1" stroke-linecap="butt"/>
<line x1="832.73" y1="930.5" x2="832.73" y2="1060.85" stroke="#b3b3b3" stroke-width="1.1" stroke-linecap="butt"/>
<line x1="874.76" y1="930.5" x2="874.76" y2="1060.85" stroke="#b3b3b3" stroke-width="1.1" stroke-linecap="butt"/>
<line x1="916.79" y1="930.5" x2="916.79" y2="1060.85" stroke="#b3b3b3" stroke-width="1.1" stroke-linecap="butt"/>
<line x1="958.82" y1="930.5" x2="958.82" y2="1060.85" stroke="#b3b3b3" stroke-width="1.1" stroke-linecap="butt"/>
<line x1="1000.85" y1="930.5" x2="1000.85" y2="1060.85" stroke="#b3b3b3" stroke-width="1.1" stroke-linecap="butt"/>
<line x1="1042.88" y1="930.5" x2="1042.88" y2="1060.85" stroke="#b3b3b3" stroke-width="1.1" stroke-linecap="butt"/>
<line x1="1084.91" y1="930.5" x2="1084.91" y2="1060.85" stroke="#b3b3b3" stroke-width="1.1" stroke-linecap="butt"/>
<line x1="1126.94" y1="930.5" x2="1126.94" y2="1060.85" stroke="#b3b3b3" stroke-width="1.1" stroke-linecap="butt"/>
<line x1="1168.97" y1="930.5" x2="1168.97" y2="1060.85" stroke="#b3b3b3" stroke-width="1.1" stroke-linecap="butt"/>
<line x1="1211" y1="930.5" x2="1211" y2="1060.85" stroke="#b3b3b3" stroke-width="1.1" stroke-linecap="butt"/>
<line x1="1253.03" y1="930.5" x2="1253.03" y2="1060.85" stroke="#b3b3b3" stroke-width="1.1" stroke-linecap="butt"/>
<line x1="1295.06" y1="930.5" x2="1295.06" y2="1060.85" stroke="#b3b3b3" stroke-width="1.1" stroke-linecap="butt"/>
<line x1="1337.09" y1="930.5" x2="1337.09" y2="1060.85" stroke="#b3b3b3" stroke-width="1.1" stroke-linecap="butt"/>
<line x1="1379.12" y1="930.5" x2="1379.12" y2="1060.85" stroke="#b3b3b3" stroke-width="1.1" stroke-linecap="butt"/>
<line x1="1421.15" y1="930.5" x2="1421.15" y2="1060.85" stroke="#b3b3b3" stroke-width="1.1" stroke-linecap="butt"/>
<line x1="1463.18" y1="930.5" x2="1463.18" y2="1060.85" stroke="#b3b3b3" stroke-width="1.1" stroke-linecap="butt"/>
<line x1="1505.21" y1="930.5" x2="1505.21" y2="1060.85" stroke="#b3b3b3" stroke-width="1.1" stroke-linecap="butt"/>
<line x1="1547.24" y1="930.5" x2="1547.24" y2="1060.85" stroke="#b3b3b3" stroke-width="1.1" stroke-linecap="butt"/>
<line x1="1589.27" y1="930.5" x2="1589.27" y2="1060.85" stroke="#b3b3b3" stroke-width="1.1" stroke-linecap="butt"/>
<line x1="790.7" y1="930.5" x2="1589.27" y2="930.5" stroke="#b3b3b3" stroke-width="1.1" stroke-linecap="butt"/>
<line x1="790.7" y1="973.95" x2="1589.27" y2="973.95" stroke="#b3b3b3" stroke-width="1.1" stroke-linecap="butt"/>
<line x1="790.7" y1="1017.4" x2="1589.27" y2="1017.4" stroke="#b3b3b3" stroke-width="1.1" stroke-linecap="butt"/>
<line x1="790.7" y1="1060.85" x2="1589.27" y2="1060.85" stroke="#b3b3b3" stroke-width="1.1" stroke-linecap="butt"/>
<line x1="1001" y1="868.7" x2="1001" y2="1096" stroke="#e8863a" stroke-width="3" stroke-linecap="butt"/>
<text transform="translate(688.24,961.83) scale(0.9418,1)" font-size="30" fill="#000">FGFR1</text>
<text transform="translate(688.24,1005.27) scale(0.9433,1)" font-size="30" fill="#000">FGFR2</text>
<text transform="translate(688.24,1048.72) scale(0.9403,1)" font-size="30" fill="#000">FGFR3</text>
<text transform="translate(1657.04,758.7) scale(1.0964,1)" font-size="26.9" fill="#000">Reletive RNA level</text>
<rect x="1718.2" y="768.9" width="77.9" height="20.4" fill="url(#cbar)" stroke="none" stroke-width="0"/>
<text transform="translate(1699.85,811.8) scale(0.8459,1)" font-size="30.14" fill="#000">-1</text>
<text transform="translate(1792.49,811.8) scale(0.6253,1)" font-size="30.14" fill="#000">1</text>
<rect x="1668.4" y="854.7" width="26.4" height="25.8" fill="#a71c24" stroke="none" stroke-width="0"/>
<text transform="translate(1705.94,877.2) scale(1.0698,1)" font-size="27.59" fill="#000">FGFR1 Gain</text>
<rect x="1668.4" y="898" width="26.4" height="25.7" fill="#f3842a" stroke="none" stroke-width="0"/>
<text transform="translate(1705.95,920.4) scale(1.0644,1)" font-size="27.59" fill="#000">FGFR2 MUT (P253R)</text>
<rect x="1668.4" y="941.4" width="26.4" height="26" fill="#0c7a3e" stroke="none" stroke-width="0"/>
<text transform="translate(1705.95,964.1) scale(1.0656,1)" font-size="27.59" fill="#000">FGFR3 MUT (E458K)</text>
<text transform="translate(5.72,1151.22) scale(1.0731,1)" font-size="43.73" font-weight="bold" fill="#000">g</text>
<text transform="translate(40.85,1214.9) scale(1.0245,1)" font-size="28.71" fill="#000">NIBRX-5249</text>
<polyline points="171.1,1259 278.7,1259 278.7,1295.9 331.9,1295.9 331.9,1333.6 420.5,1333.6 420.5,1446.2 564,1446.2" fill="none" stroke="#a8a8a8" stroke-width="2.8" stroke-linejoin="round" stroke-linejoin="miter" stroke-linecap="square"/>
<polyline points="171.1,1256.4 279.2,1256.4 279.2,1298 421,1298 421,1427.8 530,1427.8 530,1470.2 564,1470.2" fill="none" stroke="#ebd08a" stroke-width="2.8" stroke-linejoin="round" stroke-linejoin="miter" stroke-linecap="square"/>
<polyline points="171.1,1261.6 424.2,1261.6 424.2,1361.8 564,1361.8" fill="none" stroke="#a9a9d9" stroke-width="2.8" stroke-linejoin="round" stroke-linejoin="miter" stroke-linecap="square"/>
<polyline points="419.8,1259 564,1259" fill="none" stroke="#8c1f26" stroke-width="2.8" stroke-linejoin="round" stroke-linejoin="miter" stroke-linecap="square"/>
<polyline points="171.1,1259 421,1259 421,1309.1 528.4,1309.1 528.4,1358.7 564,1358.7" fill="none" stroke="#17663f" stroke-width="2.8" stroke-linejoin="round" stroke-linejoin="miter" stroke-linecap="square"/>
<polyline points="171.1,1259 417.1,1259 417.1,1345.5 453.2,1345.5 453.2,1472.9 525.2,1472.9 525.2,1515.6 564,1515.6" fill="none" stroke="#000" stroke-width="3" stroke-linejoin="round" stroke-linejoin="miter" stroke-linecap="square"/>
<line x1="171.1" y1="1244.3" x2="171.1" y2="1572.3" stroke="#000" stroke-width="2.8" stroke-linecap="butt"/>
<line x1="157.7" y1="1558.6" x2="564" y2="1558.6" stroke="#000" stroke-width="2.8" stroke-linecap="butt"/>
<line x1="157.7" y1="1558.6" x2="171.1" y2="1558.6" stroke="#000" stroke-width="2.8" stroke-linecap="butt"/>
<text transform="translate(114.31,1567.55)" font-size="29" fill="#000">0.0</text>
<line x1="157.7" y1="1408.8" x2="171.1" y2="1408.8" stroke="#000" stroke-width="2.8" stroke-linecap="butt"/>
<text transform="translate(114.45,1417.75)" font-size="29" fill="#000">0.5</text>
<line x1="157.7" y1="1259" x2="171.1" y2="1259" stroke="#000" stroke-width="2.8" stroke-linecap="butt"/>
<text transform="translate(114.3,1267.95)" font-size="29" fill="#000">1.0</text>
<line x1="171.1" y1="1558.6" x2="171.1" y2="1572.3" stroke="#000" stroke-width="2.8" stroke-linecap="butt"/>
<text transform="translate(163.26,1600)" font-size="28" fill="#000">0</text>
<line x1="278.32" y1="1558.6" x2="278.32" y2="1572.3" stroke="#000" stroke-width="2.8" stroke-linecap="butt"/>
<text transform="translate(270.41,1600)" font-size="28" fill="#000">6</text>
<line x1="385.54" y1="1558.6" x2="385.54" y2="1572.3" stroke="#000" stroke-width="2.8" stroke-linecap="butt"/>
<text transform="translate(369.65,1600)" font-size="28" fill="#000">12</text>
<line x1="492.76" y1="1558.6" x2="492.76" y2="1572.3" stroke="#000" stroke-width="2.8" stroke-linecap="butt"/>
<text transform="translate(476.73,1600)" font-size="28" fill="#000">18</text>
<text transform="translate(256.97,1635.6)" font-size="27.86" fill="#000">Day of treatment</text>
<text transform="translate(86,1523.6) rotate(-90) translate(-0.56,0) scale(0.9464,1)" font-size="29.66" fill="#000">Tumor progression</text>
<polyline points="579.8,1260.6 584,1260.6 584,1515.6 579.8,1515.6" fill="none" stroke="#000" stroke-width="2.4" stroke-linejoin="round"/>
<text transform="translate(598.54,1405.9) scale(1.0126,1)" font-size="30.29" fill="#000">**</text>
<line x1="709.6" y1="1251.2" x2="737.3" y2="1251.2" stroke="#000" stroke-width="3" stroke-linecap="butt"/>
<line x1="709.6" y1="1291.6" x2="737.3" y2="1291.6" stroke="#a9a9d9" stroke-width="2.6" stroke-linecap="butt"/>
<line x1="709.6" y1="1331.9" x2="737.3" y2="1331.9" stroke="#ebd08a" stroke-width="2.6" stroke-linecap="butt"/>
<line x1="709.6" y1="1371.9" x2="737.3" y2="1371.9" stroke="#a8a8a8" stroke-width="2.6" stroke-linecap="butt"/>
<line x1="709.6" y1="1419.2" x2="737.3" y2="1419.2" stroke="#8c1f26" stroke-width="2.6" stroke-linecap="butt"/>
<line x1="709.6" y1="1498.3" x2="737.3" y2="1498.3" stroke="#17663f" stroke-width="2.6" stroke-linecap="butt"/>
<text transform="translate(748.56,1263.4) scale(1.0410,1)" font-size="26.9" fill="#000">Vehicle</text>
<text transform="translate(746.87,1301.8) scale(1.0380,1)" font-size="28.14" fill="#000">Infigratinib</text>
<text transform="translate(747.26,1343.3)" font-size="28" fill="#000">Everolimus</text>
<text transform="translate(745.69,1381.7) scale(1.0050,1)" font-size="28" fill="#000">CA3</text>
<text transform="translate(746.87,1429.8) scale(1.0380,1)" font-size="28.14" fill="#000">Infigratinib</text>
<text transform="translate(747.6,1464.8) scale(1.0377,1)" font-size="26.9" fill="#000">+everolimus</text>
<text transform="translate(746.87,1504.8) scale(1.0380,1)" font-size="28.14" fill="#000">Infigratinib</text>
<text transform="translate(747.59,1542.3) scale(1.0100,1)" font-size="28" fill="#000">+CA3</text>
<text transform="translate(914.59,1154.7) scale(1.1149,1)" font-size="43.72" font-weight="bold" fill="#000">h</text>
<text transform="translate(1022.27,1218)" font-size="29.14" fill="#000">NIBRX-6047</text>
<polyline points="1111.8,1248.6 1298.2,1248.6 1298.2,1347 1391.4,1347 1391.4,1397.5 1430.7,1397.5 1430.7,1447.2 1505.6,1447.2" fill="none" stroke="#a8a8a8" stroke-width="2.8" stroke-linejoin="round" stroke-linejoin="miter" stroke-linecap="square"/>
<polyline points="1247.9,1248.6 1247.9,1285.5 1351.6,1285.5 1351.6,1398.7 1391.4,1398.7 1391.4,1436.7 1430,1436.7 1430,1511.2 1505.6,1511.2" fill="none" stroke="#ebd08a" stroke-width="2.8" stroke-linejoin="round" stroke-linejoin="miter" stroke-linecap="square"/>
<polyline points="1111.8,1248.6 1246,1248.6 1246,1350.5 1351.6,1350.5 1351.6,1399.8 1430.7,1399.8 1430.7,1500.7 1505.6,1500.7" fill="none" stroke="#a9a9d9" stroke-width="2.8" stroke-linejoin="round" stroke-linejoin="miter" stroke-linecap="square"/>
<polyline points="1246,1250.3 1299.6,1250.3 1299.6,1310.1 1505.6,1310.1" fill="none" stroke="#8c1f26" stroke-width="2.8" stroke-linejoin="round" stroke-linejoin="miter" stroke-linecap="square"/>
<polyline points="1246,1246.8 1505.6,1246.8" fill="none" stroke="#17663f" stroke-width="2.8" stroke-linejoin="round" stroke-linejoin="miter" stroke-linecap="square"/>
<polyline points="1111.8,1248.6 1242.6,1248.6 1242.6,1299.5 1295.4,1299.5 1295.4,1398.7 1349.2,1398.7 1349.2,1499.3 1427.2,1499.3 1427.2,1548.5" fill="none" stroke="#000" stroke-width="3" stroke-linejoin="round" stroke-linejoin="miter" stroke-linecap="square"/>
<line x1="1111.8" y1="1234.5" x2="1111.8" y2="1561.5" stroke="#000" stroke-width="2.8" stroke-linecap="butt"/>
<line x1="1098.5" y1="1548.5" x2="1505.6" y2="1548.5" stroke="#000" stroke-width="2.8" stroke-linecap="butt"/>
<line x1="1098.5" y1="1548.5" x2="1111.8" y2="1548.5" stroke="#000" stroke-width="2.8" stroke-linecap="butt"/>
<text transform="translate(1056.3,1558.05)" font-size="29" fill="#000">0.0</text>
<line x1="1098.5" y1="1398.55" x2="1111.8" y2="1398.55" stroke="#000" stroke-width="2.8" stroke-linecap="butt"/>
<text transform="translate(1056.45,1408.1)" font-size="29" fill="#000">0.5</text>
<line x1="1098.5" y1="1248.6" x2="1111.8" y2="1248.6" stroke="#000" stroke-width="2.8" stroke-linecap="butt"/>
<text transform="translate(1056.31,1258.15)" font-size="29" fill="#000">1.0</text>
<line x1="1111.8" y1="1548.5" x2="1111.8" y2="1561.5" stroke="#000" stroke-width="2.8" stroke-linecap="butt"/>
<text transform="translate(1103.82,1590)" font-size="28.5" fill="#000">0</text>
<line x1="1243.1" y1="1548.5" x2="1243.1" y2="1561.5" stroke="#000" stroke-width="2.8" stroke-linecap="butt"/>
<text transform="translate(1226.71,1590)" font-size="28.5" fill="#000">10</text>
<line x1="1374.4" y1="1548.5" x2="1374.4" y2="1561.5" stroke="#000" stroke-width="2.8" stroke-linecap="butt"/>
<text transform="translate(1358.37,1590)" font-size="28.5" fill="#000">20</text>
<line x1="1505.7" y1="1548.5" x2="1505.7" y2="1561.5" stroke="#000" stroke-width="2.8" stroke-linecap="butt"/>
<text transform="translate(1489.81,1590)" font-size="28.5" fill="#000">30</text>
<text transform="translate(1209.78,1630.1) scale(0.9871,1)" font-size="28.14" fill="#000">Day of treatment</text>
<text transform="translate(1024.6,1526.3) rotate(-90) translate(-0.56,0) scale(0.9569,1)" font-size="29.1" fill="#000">Tumor progression</text>
<line x1="1515.1" y1="1310.1" x2="1515.1" y2="1542.2" stroke="#000" stroke-width="2.2" stroke-linecap="butt"/>
<text transform="translate(1528.71,1448.5) scale(1.1038,1)" font-size="29.71" fill="#000">**</text>
<polyline points="1560.8,1252.1 1565,1252.1 1565,1545.7 1560.8,1545.7" fill="none" stroke="#000" stroke-width="2.4" stroke-linejoin="round"/>
<text transform="translate(1579.73,1420.31) scale(1.0671,1)" font-size="29.43" fill="#000">***</text>
<line x1="1725.5" y1="1245.4" x2="1753.7" y2="1245.4" stroke="#000" stroke-width="3" stroke-linecap="butt"/>
<line x1="1725.5" y1="1285.3" x2="1753.7" y2="1285.3" stroke="#a9a9d9" stroke-width="2.6" stroke-linecap="butt"/>
<line x1="1725.5" y1="1325.3" x2="1753.7" y2="1325.3" stroke="#ebd08a" stroke-width="2.6" stroke-linecap="butt"/>
<line x1="1725.5" y1="1365.2" x2="1753.7" y2="1365.2" stroke="#a8a8a8" stroke-width="2.6" stroke-linecap="butt"/>
<line x1="1725.5" y1="1412.9" x2="1753.7" y2="1412.9" stroke="#8c1f26" stroke-width="2.6" stroke-linecap="butt"/>
<line x1="1725.5" y1="1492.1" x2="1753.7" y2="1492.1" stroke="#17663f" stroke-width="2.6" stroke-linecap="butt"/>
<text transform="translate(1764.46,1257.6) scale(1.0201,1)" font-size="27.45" fill="#000">Vehicle</text>
<text transform="translate(1762.77,1295.9) scale(1.0253,1)" font-size="28.55" fill="#000">Infigratinib</text>
<text transform="translate(1763.16,1337.5) scale(0.9963,1)" font-size="28.14" fill="#000">Everolimus</text>
<text transform="translate(1761.08,1375.4)" font-size="28.43" fill="#000">CA3</text>
<text transform="translate(1762.77,1422.3) scale(1.0404,1)" font-size="28.14" fill="#000">Infigratinib</text>
<text transform="translate(1763.71,1457.4) scale(1.0310,1)" font-size="27.03" fill="#000">+everolimus</text>
<text transform="translate(1762.77,1498.2) scale(1.0560,1)" font-size="27.72" fill="#000">Infigratinib</text>
<text transform="translate(1763.67,1535.3) scale(1.0099,1)" font-size="28.29" fill="#000">+CA3</text>
<text transform="translate(3.3,1678) scale(1.3917,1)" font-size="44.14" font-weight="bold" fill="#000">i</text>
<text transform="translate(75.03,1724.2) scale(1.1041,1)" font-size="26.86" fill="#000">NIBRX-5249</text>
<polyline points="235.1,1952.5 316.7,1957.73 399.7,1954.24 481.7,1947.26 564,1950.76 646.3,1950.76" fill="none" stroke="#000" stroke-width="2.8" stroke-linejoin="round"/>
<circle cx="235.1" cy="1952.5" r="4.6" fill="#000"/>
<line x1="316.7" y1="1954.24" x2="316.7" y2="1961.22" stroke="#000" stroke-width="2.4" stroke-linecap="butt"/>
<line x1="311.2" y1="1954.24" x2="322.2" y2="1954.24" stroke="#000" stroke-width="2.4" stroke-linecap="butt"/>
<line x1="311.2" y1="1961.22" x2="322.2" y2="1961.22" stroke="#000" stroke-width="2.4" stroke-linecap="butt"/>
<circle cx="316.7" cy="1957.73" r="4.6" fill="#000"/>
<line x1="399.7" y1="1950.06" x2="399.7" y2="1958.43" stroke="#000" stroke-width="2.4" stroke-linecap="butt"/>
<line x1="394.2" y1="1950.06" x2="405.2" y2="1950.06" stroke="#000" stroke-width="2.4" stroke-linecap="butt"/>
<line x1="394.2" y1="1958.43" x2="405.2" y2="1958.43" stroke="#000" stroke-width="2.4" stroke-linecap="butt"/>
<circle cx="399.7" cy="1954.24" r="4.6" fill="#000"/>
<line x1="481.7" y1="1943.78" x2="481.7" y2="1950.76" stroke="#000" stroke-width="2.4" stroke-linecap="butt"/>
<line x1="476.2" y1="1943.78" x2="487.2" y2="1943.78" stroke="#000" stroke-width="2.4" stroke-linecap="butt"/>
<line x1="476.2" y1="1950.76" x2="487.2" y2="1950.76" stroke="#000" stroke-width="2.4" stroke-linecap="butt"/>
<circle cx="481.7" cy="1947.26" r="4.6" fill="#000"/>
<line x1="564" y1="1947.26" x2="564" y2="1954.24" stroke="#000" stroke-width="2.4" stroke-linecap="butt"/>
<line x1="558.5" y1="1947.26" x2="569.5" y2="1947.26" stroke="#000" stroke-width="2.4" stroke-linecap="butt"/>
<line x1="558.5" y1="1954.24" x2="569.5" y2="1954.24" stroke="#000" stroke-width="2.4" stroke-linecap="butt"/>
<circle cx="564" cy="1950.76" r="4.6" fill="#000"/>
<line x1="646.3" y1="1945.52" x2="646.3" y2="1955.99" stroke="#000" stroke-width="2.4" stroke-linecap="butt"/>
<line x1="640.8" y1="1945.52" x2="651.8" y2="1945.52" stroke="#000" stroke-width="2.4" stroke-linecap="butt"/>
<line x1="640.8" y1="1955.99" x2="651.8" y2="1955.99" stroke="#000" stroke-width="2.4" stroke-linecap="butt"/>
<circle cx="646.3" cy="1950.76" r="4.6" fill="#000"/>
<polyline points="235.1,1952.5 316.7,1955.99 399.7,1954.24 481.7,1949.71 564,1951.45 646.3,1957.73" fill="none" stroke="#a9a9d9" stroke-width="2.5" stroke-linejoin="round"/>
<circle cx="235.1" cy="1952.5" r="5" fill="#a9a9d9"/>
<line x1="316.7" y1="1952.5" x2="316.7" y2="1959.48" stroke="#a9a9d9" stroke-width="2.4" stroke-linecap="butt"/>
<line x1="311.2" y1="1952.5" x2="322.2" y2="1952.5" stroke="#a9a9d9" stroke-width="2.4" stroke-linecap="butt"/>
<line x1="311.2" y1="1959.48" x2="322.2" y2="1959.48" stroke="#a9a9d9" stroke-width="2.4" stroke-linecap="butt"/>
<circle cx="316.7" cy="1955.99" r="5" fill="#a9a9d9"/>
<line x1="399.7" y1="1950.76" x2="399.7" y2="1957.73" stroke="#a9a9d9" stroke-width="2.4" stroke-linecap="butt"/>
<line x1="394.2" y1="1950.76" x2="405.2" y2="1950.76" stroke="#a9a9d9" stroke-width="2.4" stroke-linecap="butt"/>
<line x1="394.2" y1="1957.73" x2="405.2" y2="1957.73" stroke="#a9a9d9" stroke-width="2.4" stroke-linecap="butt"/>
<circle cx="399.7" cy="1954.24" r="5" fill="#a9a9d9"/>
<line x1="481.7" y1="1946.22" x2="481.7" y2="1953.2" stroke="#a9a9d9" stroke-width="2.4" stroke-linecap="butt"/>
<line x1="476.2" y1="1946.22" x2="487.2" y2="1946.22" stroke="#a9a9d9" stroke-width="2.4" stroke-linecap="butt"/>
<line x1="476.2" y1="1953.2" x2="487.2" y2="1953.2" stroke="#a9a9d9" stroke-width="2.4" stroke-linecap="butt"/>
<circle cx="481.7" cy="1949.71" r="5" fill="#a9a9d9"/>
<line x1="564" y1="1947.96" x2="564" y2="1954.94" stroke="#a9a9d9" stroke-width="2.4" stroke-linecap="butt"/>
<line x1="558.5" y1="1947.96" x2="569.5" y2="1947.96" stroke="#a9a9d9" stroke-width="2.4" stroke-linecap="butt"/>
<line x1="558.5" y1="1954.94" x2="569.5" y2="1954.94" stroke="#a9a9d9" stroke-width="2.4" stroke-linecap="butt"/>
<circle cx="564" cy="1951.45" r="5" fill="#a9a9d9"/>
<line x1="646.3" y1="1952.5" x2="646.3" y2="1962.97" stroke="#a9a9d9" stroke-width="2.4" stroke-linecap="butt"/>
<line x1="640.8" y1="1952.5" x2="651.8" y2="1952.5" stroke="#a9a9d9" stroke-width="2.4" stroke-linecap="butt"/>
<line x1="640.8" y1="1962.97" x2="651.8" y2="1962.97" stroke="#a9a9d9" stroke-width="2.4" stroke-linecap="butt"/>
<circle cx="646.3" cy="1957.73" r="5" fill="#a9a9d9"/>
<polyline points="235.1,1952.5 316.7,1959.48 399.7,1954.24 481.7,1947.26 564,1950.76 646.3,1947.26" fill="none" stroke="#f7cd74" stroke-width="2.5" stroke-linejoin="round"/>
<circle cx="235.1" cy="1952.5" r="5" fill="#f7cd74"/>
<line x1="316.7" y1="1955.99" x2="316.7" y2="1962.97" stroke="#f7cd74" stroke-width="2.4" stroke-linecap="butt"/>
<line x1="311.2" y1="1955.99" x2="322.2" y2="1955.99" stroke="#f7cd74" stroke-width="2.4" stroke-linecap="butt"/>
<line x1="311.2" y1="1962.97" x2="322.2" y2="1962.97" stroke="#f7cd74" stroke-width="2.4" stroke-linecap="butt"/>
<circle cx="316.7" cy="1959.48" r="5" fill="#f7cd74"/>
<line x1="399.7" y1="1950.76" x2="399.7" y2="1957.73" stroke="#f7cd74" stroke-width="2.4" stroke-linecap="butt"/>
<line x1="394.2" y1="1950.76" x2="405.2" y2="1950.76" stroke="#f7cd74" stroke-width="2.4" stroke-linecap="butt"/>
<line x1="394.2" y1="1957.73" x2="405.2" y2="1957.73" stroke="#f7cd74" stroke-width="2.4" stroke-linecap="butt"/>
<circle cx="399.7" cy="1954.24" r="5" fill="#f7cd74"/>
<line x1="481.7" y1="1943.78" x2="481.7" y2="1950.76" stroke="#f7cd74" stroke-width="2.4" stroke-linecap="butt"/>
<line x1="476.2" y1="1943.78" x2="487.2" y2="1943.78" stroke="#f7cd74" stroke-width="2.4" stroke-linecap="butt"/>
<line x1="476.2" y1="1950.76" x2="487.2" y2="1950.76" stroke="#f7cd74" stroke-width="2.4" stroke-linecap="butt"/>
<circle cx="481.7" cy="1947.26" r="5" fill="#f7cd74"/>
<line x1="564" y1="1947.26" x2="564" y2="1954.24" stroke="#f7cd74" stroke-width="2.4" stroke-linecap="butt"/>
<line x1="558.5" y1="1947.26" x2="569.5" y2="1947.26" stroke="#f7cd74" stroke-width="2.4" stroke-linecap="butt"/>
<line x1="558.5" y1="1954.24" x2="569.5" y2="1954.24" stroke="#f7cd74" stroke-width="2.4" stroke-linecap="butt"/>
<circle cx="564" cy="1950.76" r="5" fill="#f7cd74"/>
<line x1="646.3" y1="1943.78" x2="646.3" y2="1950.76" stroke="#f7cd74" stroke-width="2.4" stroke-linecap="butt"/>
<line x1="640.8" y1="1943.78" x2="651.8" y2="1943.78" stroke="#f7cd74" stroke-width="2.4" stroke-linecap="butt"/>
<line x1="640.8" y1="1950.76" x2="651.8" y2="1950.76" stroke="#f7cd74" stroke-width="2.4" stroke-linecap="butt"/>
<circle cx="646.3" cy="1947.26" r="5" fill="#f7cd74"/>
<polyline points="235.1,1952.5 316.7,1946.22 399.7,1949.01 481.7,1942.03 564,1940.29 646.3,1943.78" fill="none" stroke="#a8a8a8" stroke-width="2.5" stroke-linejoin="round"/>
<circle cx="235.1" cy="1952.5" r="5" fill="#a8a8a8"/>
<line x1="316.7" y1="1942.73" x2="316.7" y2="1949.71" stroke="#a8a8a8" stroke-width="2.4" stroke-linecap="butt"/>
<line x1="311.2" y1="1942.73" x2="322.2" y2="1942.73" stroke="#a8a8a8" stroke-width="2.4" stroke-linecap="butt"/>
<line x1="311.2" y1="1949.71" x2="322.2" y2="1949.71" stroke="#a8a8a8" stroke-width="2.4" stroke-linecap="butt"/>
<circle cx="316.7" cy="1946.22" r="5" fill="#a8a8a8"/>
<line x1="399.7" y1="1945.52" x2="399.7" y2="1952.5" stroke="#a8a8a8" stroke-width="2.4" stroke-linecap="butt"/>
<line x1="394.2" y1="1945.52" x2="405.2" y2="1945.52" stroke="#a8a8a8" stroke-width="2.4" stroke-linecap="butt"/>
<line x1="394.2" y1="1952.5" x2="405.2" y2="1952.5" stroke="#a8a8a8" stroke-width="2.4" stroke-linecap="butt"/>
<circle cx="399.7" cy="1949.01" r="5" fill="#a8a8a8"/>
<line x1="481.7" y1="1938.54" x2="481.7" y2="1945.52" stroke="#a8a8a8" stroke-width="2.4" stroke-linecap="butt"/>
<line x1="476.2" y1="1938.54" x2="487.2" y2="1938.54" stroke="#a8a8a8" stroke-width="2.4" stroke-linecap="butt"/>
<line x1="476.2" y1="1945.52" x2="487.2" y2="1945.52" stroke="#a8a8a8" stroke-width="2.4" stroke-linecap="butt"/>
<circle cx="481.7" cy="1942.03" r="5" fill="#a8a8a8"/>
<line x1="564" y1="1936.8" x2="564" y2="1943.78" stroke="#a8a8a8" stroke-width="2.4" stroke-linecap="butt"/>
<line x1="558.5" y1="1936.8" x2="569.5" y2="1936.8" stroke="#a8a8a8" stroke-width="2.4" stroke-linecap="butt"/>
<line x1="558.5" y1="1943.78" x2="569.5" y2="1943.78" stroke="#a8a8a8" stroke-width="2.4" stroke-linecap="butt"/>
<circle cx="564" cy="1940.29" r="5" fill="#a8a8a8"/>
<line x1="646.3" y1="1938.54" x2="646.3" y2="1949.01" stroke="#a8a8a8" stroke-width="2.4" stroke-linecap="butt"/>
<line x1="640.8" y1="1938.54" x2="651.8" y2="1938.54" stroke="#a8a8a8" stroke-width="2.4" stroke-linecap="butt"/>
<line x1="640.8" y1="1949.01" x2="651.8" y2="1949.01" stroke="#a8a8a8" stroke-width="2.4" stroke-linecap="butt"/>
<circle cx="646.3" cy="1943.78" r="5" fill="#a8a8a8"/>
<polyline points="235.1,1952.5 316.7,1955.99 399.7,1944.47 481.7,1928.77 564,1929.82 646.3,1933.31" fill="none" stroke="#a8252b" stroke-width="2.8" stroke-linejoin="round"/>
<circle cx="235.1" cy="1952.5" r="5" fill="#a8252b"/>
<line x1="316.7" y1="1950.76" x2="316.7" y2="1961.22" stroke="#a8252b" stroke-width="2.4" stroke-linecap="butt"/>
<line x1="311.2" y1="1950.76" x2="322.2" y2="1950.76" stroke="#a8252b" stroke-width="2.4" stroke-linecap="butt"/>
<line x1="311.2" y1="1961.22" x2="322.2" y2="1961.22" stroke="#a8252b" stroke-width="2.4" stroke-linecap="butt"/>
<circle cx="316.7" cy="1955.99" r="5" fill="#a8252b"/>
<line x1="399.7" y1="1939.24" x2="399.7" y2="1949.71" stroke="#a8252b" stroke-width="2.4" stroke-linecap="butt"/>
<line x1="394.2" y1="1939.24" x2="405.2" y2="1939.24" stroke="#a8252b" stroke-width="2.4" stroke-linecap="butt"/>
<line x1="394.2" y1="1949.71" x2="405.2" y2="1949.71" stroke="#a8252b" stroke-width="2.4" stroke-linecap="butt"/>
<circle cx="399.7" cy="1944.47" r="5" fill="#a8252b"/>
<line x1="481.7" y1="1918.3" x2="481.7" y2="1939.24" stroke="#a8252b" stroke-width="2.4" stroke-linecap="butt"/>
<line x1="476.2" y1="1918.3" x2="487.2" y2="1918.3" stroke="#a8252b" stroke-width="2.4" stroke-linecap="butt"/>
<line x1="476.2" y1="1939.24" x2="487.2" y2="1939.24" stroke="#a8252b" stroke-width="2.4" stroke-linecap="butt"/>
<circle cx="481.7" cy="1928.77" r="5" fill="#a8252b"/>
<line x1="564" y1="1922.84" x2="564" y2="1936.8" stroke="#a8252b" stroke-width="2.4" stroke-linecap="butt"/>
<line x1="558.5" y1="1922.84" x2="569.5" y2="1922.84" stroke="#a8252b" stroke-width="2.4" stroke-linecap="butt"/>
<line x1="558.5" y1="1936.8" x2="569.5" y2="1936.8" stroke="#a8252b" stroke-width="2.4" stroke-linecap="butt"/>
<circle cx="564" cy="1929.82" r="5" fill="#a8252b"/>
<line x1="646.3" y1="1924.58" x2="646.3" y2="1942.03" stroke="#a8252b" stroke-width="2.4" stroke-linecap="butt"/>
<line x1="640.8" y1="1924.58" x2="651.8" y2="1924.58" stroke="#a8252b" stroke-width="2.4" stroke-linecap="butt"/>
<line x1="640.8" y1="1942.03" x2="651.8" y2="1942.03" stroke="#a8252b" stroke-width="2.4" stroke-linecap="butt"/>
<circle cx="646.3" cy="1933.31" r="5" fill="#a8252b"/>
<polyline points="235.1,1952.5 316.7,1951.1 399.7,1936.1 481.7,1938.89 564,1940.63 646.3,1951.1" fill="none" stroke="#16794a" stroke-width="2.8" stroke-linejoin="round"/>
<circle cx="235.1" cy="1952.5" r="5.4" fill="#16794a"/>
<line x1="316.7" y1="1947.61" x2="316.7" y2="1954.59" stroke="#16794a" stroke-width="2.4" stroke-linecap="butt"/>
<line x1="311.2" y1="1947.61" x2="322.2" y2="1947.61" stroke="#16794a" stroke-width="2.4" stroke-linecap="butt"/>
<line x1="311.2" y1="1954.59" x2="322.2" y2="1954.59" stroke="#16794a" stroke-width="2.4" stroke-linecap="butt"/>
<circle cx="316.7" cy="1951.1" r="5.4" fill="#16794a"/>
<line x1="399.7" y1="1930.86" x2="399.7" y2="1941.33" stroke="#16794a" stroke-width="2.4" stroke-linecap="butt"/>
<line x1="394.2" y1="1930.86" x2="405.2" y2="1930.86" stroke="#16794a" stroke-width="2.4" stroke-linecap="butt"/>
<line x1="394.2" y1="1941.33" x2="405.2" y2="1941.33" stroke="#16794a" stroke-width="2.4" stroke-linecap="butt"/>
<circle cx="399.7" cy="1936.1" r="5.4" fill="#16794a"/>
<line x1="481.7" y1="1933.65" x2="481.7" y2="1944.12" stroke="#16794a" stroke-width="2.4" stroke-linecap="butt"/>
<line x1="476.2" y1="1933.65" x2="487.2" y2="1933.65" stroke="#16794a" stroke-width="2.4" stroke-linecap="butt"/>
<line x1="476.2" y1="1944.12" x2="487.2" y2="1944.12" stroke="#16794a" stroke-width="2.4" stroke-linecap="butt"/>
<circle cx="481.7" cy="1938.89" r="5.4" fill="#16794a"/>
<line x1="564" y1="1937.14" x2="564" y2="1944.12" stroke="#16794a" stroke-width="2.4" stroke-linecap="butt"/>
<line x1="558.5" y1="1937.14" x2="569.5" y2="1937.14" stroke="#16794a" stroke-width="2.4" stroke-linecap="butt"/>
<line x1="558.5" y1="1944.12" x2="569.5" y2="1944.12" stroke="#16794a" stroke-width="2.4" stroke-linecap="butt"/>
<circle cx="564" cy="1940.63" r="5.4" fill="#16794a"/>
<line x1="646.3" y1="1945.87" x2="646.3" y2="1956.34" stroke="#16794a" stroke-width="2.4" stroke-linecap="butt"/>
<line x1="640.8" y1="1945.87" x2="651.8" y2="1945.87" stroke="#16794a" stroke-width="2.4" stroke-linecap="butt"/>
<line x1="640.8" y1="1956.34" x2="651.8" y2="1956.34" stroke="#16794a" stroke-width="2.4" stroke-linecap="butt"/>
<circle cx="646.3" cy="1951.1" r="5.4" fill="#16794a"/>
<line x1="180.6" y1="1777.2" x2="180.6" y2="2128.4" stroke="#000" stroke-width="2.8" stroke-linecap="butt"/>
<line x1="172.2" y1="2127" x2="702.5" y2="2127" stroke="#000" stroke-width="2.8" stroke-linecap="butt"/>
<line x1="172.2" y1="2127" x2="180.6" y2="2127" stroke="#000" stroke-width="2.8" stroke-linecap="butt"/>
<line x1="172.2" y1="1952.5" x2="180.6" y2="1952.5" stroke="#000" stroke-width="2.8" stroke-linecap="butt"/>
<line x1="172.2" y1="1778" x2="180.6" y2="1778" stroke="#000" stroke-width="2.8" stroke-linecap="butt"/>
<line x1="235.1" y1="2127" x2="235.1" y2="2135" stroke="#000" stroke-width="2.8" stroke-linecap="butt"/>
<text transform="translate(226.32,2168)" font-size="30" fill="#000">1</text>
<line x1="316.7" y1="2127" x2="316.7" y2="2135" stroke="#000" stroke-width="2.8" stroke-linecap="butt"/>
<text transform="translate(308.22,2168)" font-size="30" fill="#000">6</text>
<line x1="399.7" y1="2127" x2="399.7" y2="2135" stroke="#000" stroke-width="2.8" stroke-linecap="butt"/>
<text transform="translate(391.37,2168)" font-size="30" fill="#000">9</text>
<line x1="481.7" y1="2127" x2="481.7" y2="2135" stroke="#000" stroke-width="2.8" stroke-linecap="butt"/>
<text transform="translate(464.38,2168)" font-size="30" fill="#000">14</text>
<line x1="564" y1="2127" x2="564" y2="2135" stroke="#000" stroke-width="2.8" stroke-linecap="butt"/>
<text transform="translate(546.83,2168)" font-size="30" fill="#000">16</text>
<line x1="646.3" y1="2127" x2="646.3" y2="2135" stroke="#000" stroke-width="2.8" stroke-linecap="butt"/>
<text transform="translate(629.42,2168)" font-size="30" fill="#000">20</text>
<text transform="translate(116.05,1787.7) scale(0.9500,1)" font-size="30" fill="#000">150</text>
<text transform="translate(116.05,1962.2) scale(0.9500,1)" font-size="30" fill="#000">100</text>
<text transform="translate(131.86,2136.7) scale(0.9500,1)" font-size="30" fill="#000">50</text>
<text transform="translate(313.38,2213.7) scale(0.9738,1)" font-size="28.55" fill="#000">Day of treatment</text>
<text transform="translate(92.6,2120.5) rotate(-90) translate(-2.23,0) scale(1.0144,1)" font-size="27.45" fill="#000">Relative weight to day 0 (%)</text>
<line x1="696.6" y1="1689.5" x2="737.3" y2="1689.5" stroke="#000" stroke-width="3" stroke-linecap="butt"/>
<circle cx="716.95" cy="1689.5" r="5" fill="#000"/>
<line x1="696.6" y1="1730.1" x2="737.3" y2="1730.1" stroke="#a9a9d9" stroke-width="2.6" stroke-linecap="butt"/>
<circle cx="716.95" cy="1730.1" r="5" fill="#a9a9d9"/>
<line x1="696.6" y1="1771.2" x2="737.3" y2="1771.2" stroke="#f7cd74" stroke-width="2.6" stroke-linecap="butt"/>
<circle cx="716.95" cy="1771.2" r="5" fill="#f7cd74"/>
<line x1="696.6" y1="1807.3" x2="737.3" y2="1807.3" stroke="#a8a8a8" stroke-width="2.6" stroke-linecap="butt"/>
<circle cx="716.95" cy="1807.3" r="5" fill="#a8a8a8"/>
<line x1="696.6" y1="1854.3" x2="737.3" y2="1854.3" stroke="#a8252b" stroke-width="2.6" stroke-linecap="butt"/>
<circle cx="716.95" cy="1854.3" r="5" fill="#a8252b"/>
<line x1="696.6" y1="1929.4" x2="737.3" y2="1929.4" stroke="#16794a" stroke-width="2.6" stroke-linecap="butt"/>
<circle cx="716.95" cy="1929.4" r="5" fill="#16794a"/>
<text transform="translate(746.26,1700.4) scale(1.0065,1)" font-size="27.72" fill="#000">Vehicle</text>
<text transform="translate(744.16,1738.8)" font-size="29.38" fill="#000">Infigratinib</text>
<text transform="translate(744.56,1780.4) scale(1.0061,1)" font-size="27.86" fill="#000">Everolimus</text>
<text transform="translate(742.65,1817.4) scale(1.0500,1)" font-size="27.57" fill="#000">CA3</text>
<text transform="translate(744.16,1865.3) scale(1.0385,1)" font-size="28.28" fill="#000">Infigratinib</text>
<text transform="translate(745,1899.4) scale(1.0693,1)" font-size="26.21" fill="#000">+everolimus</text>
<text transform="translate(744.16,1940.5) scale(1.0186,1)" font-size="28.83" fill="#000">Infigratinib</text>
<text transform="translate(744.97,1975) scale(1.0240,1)" font-size="27.86" fill="#000">+CA3</text>
<text transform="translate(917.73,1679.66) scale(1.1231,1)" font-size="43.53" font-weight="bold" fill="#000">j</text>
<text transform="translate(1027.36,1718.1) scale(1.0254,1)" font-size="28.57" fill="#000">NIBRX-6047</text>
<polyline points="1157,1941.6 1213.06,1936.39 1269.12,1924.25 1325.18,1919.04 1381.24,1922.86 1437.3,1925.29 1493.36,1925.98 1549.42,1919.04 1605.48,1911.06" fill="none" stroke="#000" stroke-width="2.8" stroke-linejoin="round"/>
<circle cx="1157" cy="1941.6" r="4.6" fill="#000"/>
<circle cx="1213.06" cy="1936.39" r="4.6" fill="#000"/>
<circle cx="1269.12" cy="1924.25" r="4.6" fill="#000"/>
<line x1="1325.18" y1="1915.57" x2="1325.18" y2="1922.51" stroke="#000" stroke-width="2.4" stroke-linecap="butt"/>
<line x1="1319.68" y1="1915.57" x2="1330.68" y2="1915.57" stroke="#000" stroke-width="2.4" stroke-linecap="butt"/>
<line x1="1319.68" y1="1922.51" x2="1330.68" y2="1922.51" stroke="#000" stroke-width="2.4" stroke-linecap="butt"/>
<circle cx="1325.18" cy="1919.04" r="4.6" fill="#000"/>
<circle cx="1381.24" cy="1922.86" r="4.6" fill="#000"/>
<circle cx="1437.3" cy="1925.29" r="4.6" fill="#000"/>
<circle cx="1493.36" cy="1925.98" r="4.6" fill="#000"/>
<circle cx="1549.42" cy="1919.04" r="4.6" fill="#000"/>
<circle cx="1605.48" cy="1911.06" r="4.6" fill="#000"/>
<polyline points="1157,1941.6 1213.06,1939.86 1269.12,1936.39 1325.18,1927.72 1381.24,1925.98 1437.3,1925.98 1493.36,1924.25 1549.42,1917.31 1605.48,1908.63" fill="none" stroke="#a9a9d9" stroke-width="2.5" stroke-linejoin="round"/>
<circle cx="1157" cy="1941.6" r="5" fill="#a9a9d9"/>
<circle cx="1213.06" cy="1939.86" r="5" fill="#a9a9d9"/>
<circle cx="1269.12" cy="1936.39" r="5" fill="#a9a9d9"/>
<circle cx="1325.18" cy="1927.72" r="5" fill="#a9a9d9"/>
<circle cx="1381.24" cy="1925.98" r="5" fill="#a9a9d9"/>
<circle cx="1437.3" cy="1925.98" r="5" fill="#a9a9d9"/>
<circle cx="1493.36" cy="1924.25" r="5" fill="#a9a9d9"/>
<circle cx="1549.42" cy="1917.31" r="5" fill="#a9a9d9"/>
<line x1="1605.48" y1="1904.47" x2="1605.48" y2="1912.8" stroke="#a9a9d9" stroke-width="2.4" stroke-linecap="butt"/>
<line x1="1599.98" y1="1904.47" x2="1610.98" y2="1904.47" stroke="#a9a9d9" stroke-width="2.4" stroke-linecap="butt"/>
<line x1="1599.98" y1="1912.8" x2="1610.98" y2="1912.8" stroke="#a9a9d9" stroke-width="2.4" stroke-linecap="butt"/>
<circle cx="1605.48" cy="1908.63" r="5" fill="#a9a9d9"/>
<polyline points="1157,1941.6 1213.06,1945.07 1269.12,1938.13 1325.18,1934.66 1381.24,1927.72 1437.3,1927.72 1493.36,1927.72 1549.42,1920.78 1605.48,1917.31" fill="none" stroke="#f7cd74" stroke-width="2.5" stroke-linejoin="round"/>
<circle cx="1157" cy="1941.6" r="5" fill="#f7cd74"/>
<circle cx="1213.06" cy="1945.07" r="5" fill="#f7cd74"/>
<circle cx="1269.12" cy="1938.13" r="5" fill="#f7cd74"/>
<circle cx="1325.18" cy="1934.66" r="5" fill="#f7cd74"/>
<circle cx="1381.24" cy="1927.72" r="5" fill="#f7cd74"/>
<circle cx="1437.3" cy="1927.72" r="5" fill="#f7cd74"/>
<circle cx="1493.36" cy="1927.72" r="5" fill="#f7cd74"/>
<circle cx="1549.42" cy="1920.78" r="5" fill="#f7cd74"/>
<circle cx="1605.48" cy="1917.31" r="5" fill="#f7cd74"/>
<polyline points="1157,1941.6 1213.06,1938.13 1269.12,1938.13 1325.18,1927.72 1381.24,1925.98 1437.3,1924.25 1493.36,1924.25 1549.42,1919.04 1605.48,1913.84" fill="none" stroke="#a8a8a8" stroke-width="2.5" stroke-linejoin="round"/>
<circle cx="1157" cy="1941.6" r="5" fill="#a8a8a8"/>
<line x1="1213.06" y1="1935.35" x2="1213.06" y2="1940.91" stroke="#a8a8a8" stroke-width="2.4" stroke-linecap="butt"/>
<line x1="1207.56" y1="1935.35" x2="1218.56" y2="1935.35" stroke="#a8a8a8" stroke-width="2.4" stroke-linecap="butt"/>
<line x1="1207.56" y1="1940.91" x2="1218.56" y2="1940.91" stroke="#a8a8a8" stroke-width="2.4" stroke-linecap="butt"/>
<circle cx="1213.06" cy="1938.13" r="5" fill="#a8a8a8"/>
<line x1="1269.12" y1="1929.45" x2="1269.12" y2="1946.8" stroke="#a8a8a8" stroke-width="2.4" stroke-linecap="butt"/>
<line x1="1263.62" y1="1929.45" x2="1274.62" y2="1929.45" stroke="#a8a8a8" stroke-width="2.4" stroke-linecap="butt"/>
<line x1="1263.62" y1="1946.8" x2="1274.62" y2="1946.8" stroke="#a8a8a8" stroke-width="2.4" stroke-linecap="butt"/>
<circle cx="1269.12" cy="1938.13" r="5" fill="#a8a8a8"/>
<line x1="1325.18" y1="1924.25" x2="1325.18" y2="1931.19" stroke="#a8a8a8" stroke-width="2.4" stroke-linecap="butt"/>
<line x1="1319.68" y1="1924.25" x2="1330.68" y2="1924.25" stroke="#a8a8a8" stroke-width="2.4" stroke-linecap="butt"/>
<line x1="1319.68" y1="1931.19" x2="1330.68" y2="1931.19" stroke="#a8a8a8" stroke-width="2.4" stroke-linecap="butt"/>
<circle cx="1325.18" cy="1927.72" r="5" fill="#a8a8a8"/>
<line x1="1381.24" y1="1922.51" x2="1381.24" y2="1929.45" stroke="#a8a8a8" stroke-width="2.4" stroke-linecap="butt"/>
<line x1="1375.74" y1="1922.51" x2="1386.74" y2="1922.51" stroke="#a8a8a8" stroke-width="2.4" stroke-linecap="butt"/>
<line x1="1375.74" y1="1929.45" x2="1386.74" y2="1929.45" stroke="#a8a8a8" stroke-width="2.4" stroke-linecap="butt"/>
<circle cx="1381.24" cy="1925.98" r="5" fill="#a8a8a8"/>
<line x1="1437.3" y1="1920.78" x2="1437.3" y2="1927.72" stroke="#a8a8a8" stroke-width="2.4" stroke-linecap="butt"/>
<line x1="1431.8" y1="1920.78" x2="1442.8" y2="1920.78" stroke="#a8a8a8" stroke-width="2.4" stroke-linecap="butt"/>
<line x1="1431.8" y1="1927.72" x2="1442.8" y2="1927.72" stroke="#a8a8a8" stroke-width="2.4" stroke-linecap="butt"/>
<circle cx="1437.3" cy="1924.25" r="5" fill="#a8a8a8"/>
<line x1="1493.36" y1="1917.31" x2="1493.36" y2="1931.19" stroke="#a8a8a8" stroke-width="2.4" stroke-linecap="butt"/>
<line x1="1487.86" y1="1917.31" x2="1498.86" y2="1917.31" stroke="#a8a8a8" stroke-width="2.4" stroke-linecap="butt"/>
<line x1="1487.86" y1="1931.19" x2="1498.86" y2="1931.19" stroke="#a8a8a8" stroke-width="2.4" stroke-linecap="butt"/>
<circle cx="1493.36" cy="1924.25" r="5" fill="#a8a8a8"/>
<line x1="1549.42" y1="1915.57" x2="1549.42" y2="1922.51" stroke="#a8a8a8" stroke-width="2.4" stroke-linecap="butt"/>
<line x1="1543.92" y1="1915.57" x2="1554.92" y2="1915.57" stroke="#a8a8a8" stroke-width="2.4" stroke-linecap="butt"/>
<line x1="1543.92" y1="1922.51" x2="1554.92" y2="1922.51" stroke="#a8a8a8" stroke-width="2.4" stroke-linecap="butt"/>
<circle cx="1549.42" cy="1919.04" r="5" fill="#a8a8a8"/>
<line x1="1605.48" y1="1910.37" x2="1605.48" y2="1917.31" stroke="#a8a8a8" stroke-width="2.4" stroke-linecap="butt"/>
<line x1="1599.98" y1="1910.37" x2="1610.98" y2="1910.37" stroke="#a8a8a8" stroke-width="2.4" stroke-linecap="butt"/>
<line x1="1599.98" y1="1917.31" x2="1610.98" y2="1917.31" stroke="#a8a8a8" stroke-width="2.4" stroke-linecap="butt"/>
<circle cx="1605.48" cy="1913.84" r="5" fill="#a8a8a8"/>
<polyline points="1157,1941.6 1213.06,1941.6 1269.12,1930.84 1325.18,1935.35 1381.24,1921.82 1437.3,1933.62 1493.36,1921.47 1549.42,1914.53 1605.48,1912.11" fill="none" stroke="#a8252b" stroke-width="2.8" stroke-linejoin="round"/>
<circle cx="1157" cy="1941.6" r="5" fill="#a8252b"/>
<circle cx="1213.06" cy="1941.6" r="5" fill="#a8252b"/>
<line x1="1269.12" y1="1927.37" x2="1269.12" y2="1934.31" stroke="#a8252b" stroke-width="2.4" stroke-linecap="butt"/>
<line x1="1263.62" y1="1927.37" x2="1274.62" y2="1927.37" stroke="#a8252b" stroke-width="2.4" stroke-linecap="butt"/>
<line x1="1263.62" y1="1934.31" x2="1274.62" y2="1934.31" stroke="#a8252b" stroke-width="2.4" stroke-linecap="butt"/>
<circle cx="1269.12" cy="1930.84" r="5" fill="#a8252b"/>
<line x1="1325.18" y1="1931.88" x2="1325.18" y2="1938.82" stroke="#a8252b" stroke-width="2.4" stroke-linecap="butt"/>
<line x1="1319.68" y1="1931.88" x2="1330.68" y2="1931.88" stroke="#a8252b" stroke-width="2.4" stroke-linecap="butt"/>
<line x1="1319.68" y1="1938.82" x2="1330.68" y2="1938.82" stroke="#a8252b" stroke-width="2.4" stroke-linecap="butt"/>
<circle cx="1325.18" cy="1935.35" r="5" fill="#a8252b"/>
<line x1="1381.24" y1="1918.35" x2="1381.24" y2="1925.29" stroke="#a8252b" stroke-width="2.4" stroke-linecap="butt"/>
<line x1="1375.74" y1="1918.35" x2="1386.74" y2="1918.35" stroke="#a8252b" stroke-width="2.4" stroke-linecap="butt"/>
<line x1="1375.74" y1="1925.29" x2="1386.74" y2="1925.29" stroke="#a8252b" stroke-width="2.4" stroke-linecap="butt"/>
<circle cx="1381.24" cy="1921.82" r="5" fill="#a8252b"/>
<line x1="1437.3" y1="1930.15" x2="1437.3" y2="1937.09" stroke="#a8252b" stroke-width="2.4" stroke-linecap="butt"/>
<line x1="1431.8" y1="1930.15" x2="1442.8" y2="1930.15" stroke="#a8252b" stroke-width="2.4" stroke-linecap="butt"/>
<line x1="1431.8" y1="1937.09" x2="1442.8" y2="1937.09" stroke="#a8252b" stroke-width="2.4" stroke-linecap="butt"/>
<circle cx="1437.3" cy="1933.62" r="5" fill="#a8252b"/>
<line x1="1493.36" y1="1918" x2="1493.36" y2="1924.94" stroke="#a8252b" stroke-width="2.4" stroke-linecap="butt"/>
<line x1="1487.86" y1="1918" x2="1498.86" y2="1918" stroke="#a8252b" stroke-width="2.4" stroke-linecap="butt"/>
<line x1="1487.86" y1="1924.94" x2="1498.86" y2="1924.94" stroke="#a8252b" stroke-width="2.4" stroke-linecap="butt"/>
<circle cx="1493.36" cy="1921.47" r="5" fill="#a8252b"/>
<line x1="1549.42" y1="1911.06" x2="1549.42" y2="1918" stroke="#a8252b" stroke-width="2.4" stroke-linecap="butt"/>
<line x1="1543.92" y1="1911.06" x2="1554.92" y2="1911.06" stroke="#a8252b" stroke-width="2.4" stroke-linecap="butt"/>
<line x1="1543.92" y1="1918" x2="1554.92" y2="1918" stroke="#a8252b" stroke-width="2.4" stroke-linecap="butt"/>
<circle cx="1549.42" cy="1914.53" r="5" fill="#a8252b"/>
<line x1="1605.48" y1="1908.63" x2="1605.48" y2="1915.57" stroke="#a8252b" stroke-width="2.4" stroke-linecap="butt"/>
<line x1="1599.98" y1="1908.63" x2="1610.98" y2="1908.63" stroke="#a8252b" stroke-width="2.4" stroke-linecap="butt"/>
<line x1="1599.98" y1="1915.57" x2="1610.98" y2="1915.57" stroke="#a8252b" stroke-width="2.4" stroke-linecap="butt"/>
<circle cx="1605.48" cy="1912.11" r="5" fill="#a8252b"/>
<polyline points="1157,1941.6 1213.06,1947.85 1269.12,1939.17 1325.18,1937.78 1381.24,1933.62 1437.3,1947.15 1493.36,1941.6 1549.42,1931.54 1605.48,1921.82" fill="none" stroke="#16794a" stroke-width="2.8" stroke-linejoin="round"/>
<circle cx="1157" cy="1941.6" r="5.4" fill="#16794a"/>
<line x1="1213.06" y1="1945.76" x2="1213.06" y2="1949.93" stroke="#16794a" stroke-width="2.4" stroke-linecap="butt"/>
<line x1="1207.56" y1="1945.76" x2="1218.56" y2="1945.76" stroke="#16794a" stroke-width="2.4" stroke-linecap="butt"/>
<line x1="1207.56" y1="1949.93" x2="1218.56" y2="1949.93" stroke="#16794a" stroke-width="2.4" stroke-linecap="butt"/>
<circle cx="1213.06" cy="1947.85" r="5.4" fill="#16794a"/>
<line x1="1269.12" y1="1933.97" x2="1269.12" y2="1944.38" stroke="#16794a" stroke-width="2.4" stroke-linecap="butt"/>
<line x1="1263.62" y1="1933.97" x2="1274.62" y2="1933.97" stroke="#16794a" stroke-width="2.4" stroke-linecap="butt"/>
<line x1="1263.62" y1="1944.38" x2="1274.62" y2="1944.38" stroke="#16794a" stroke-width="2.4" stroke-linecap="butt"/>
<circle cx="1269.12" cy="1939.17" r="5.4" fill="#16794a"/>
<line x1="1325.18" y1="1930.84" x2="1325.18" y2="1944.72" stroke="#16794a" stroke-width="2.4" stroke-linecap="butt"/>
<line x1="1319.68" y1="1930.84" x2="1330.68" y2="1930.84" stroke="#16794a" stroke-width="2.4" stroke-linecap="butt"/>
<line x1="1319.68" y1="1944.72" x2="1330.68" y2="1944.72" stroke="#16794a" stroke-width="2.4" stroke-linecap="butt"/>
<circle cx="1325.18" cy="1937.78" r="5.4" fill="#16794a"/>
<line x1="1381.24" y1="1926.68" x2="1381.24" y2="1940.56" stroke="#16794a" stroke-width="2.4" stroke-linecap="butt"/>
<line x1="1375.74" y1="1926.68" x2="1386.74" y2="1926.68" stroke="#16794a" stroke-width="2.4" stroke-linecap="butt"/>
<line x1="1375.74" y1="1940.56" x2="1386.74" y2="1940.56" stroke="#16794a" stroke-width="2.4" stroke-linecap="butt"/>
<circle cx="1381.24" cy="1933.62" r="5.4" fill="#16794a"/>
<line x1="1437.3" y1="1930.84" x2="1437.3" y2="1963.46" stroke="#16794a" stroke-width="2.4" stroke-linecap="butt"/>
<line x1="1431.8" y1="1930.84" x2="1442.8" y2="1930.84" stroke="#16794a" stroke-width="2.4" stroke-linecap="butt"/>
<line x1="1431.8" y1="1963.46" x2="1442.8" y2="1963.46" stroke="#16794a" stroke-width="2.4" stroke-linecap="butt"/>
<circle cx="1437.3" cy="1947.15" r="5.4" fill="#16794a"/>
<line x1="1493.36" y1="1924.25" x2="1493.36" y2="1958.95" stroke="#16794a" stroke-width="2.4" stroke-linecap="butt"/>
<line x1="1487.86" y1="1924.25" x2="1498.86" y2="1924.25" stroke="#16794a" stroke-width="2.4" stroke-linecap="butt"/>
<line x1="1487.86" y1="1958.95" x2="1498.86" y2="1958.95" stroke="#16794a" stroke-width="2.4" stroke-linecap="butt"/>
<circle cx="1493.36" cy="1941.6" r="5.4" fill="#16794a"/>
<line x1="1549.42" y1="1919.39" x2="1549.42" y2="1943.68" stroke="#16794a" stroke-width="2.4" stroke-linecap="butt"/>
<line x1="1543.92" y1="1919.39" x2="1554.92" y2="1919.39" stroke="#16794a" stroke-width="2.4" stroke-linecap="butt"/>
<line x1="1543.92" y1="1943.68" x2="1554.92" y2="1943.68" stroke="#16794a" stroke-width="2.4" stroke-linecap="butt"/>
<circle cx="1549.42" cy="1931.54" r="5.4" fill="#16794a"/>
<line x1="1605.48" y1="1908.63" x2="1605.48" y2="1935.01" stroke="#16794a" stroke-width="2.4" stroke-linecap="butt"/>
<line x1="1599.98" y1="1908.63" x2="1610.98" y2="1908.63" stroke="#16794a" stroke-width="2.4" stroke-linecap="butt"/>
<line x1="1599.98" y1="1935.01" x2="1610.98" y2="1935.01" stroke="#16794a" stroke-width="2.4" stroke-linecap="butt"/>
<circle cx="1605.48" cy="1921.82" r="5.4" fill="#16794a"/>
<line x1="1121.5" y1="1766.6" x2="1121.5" y2="2116.5" stroke="#000" stroke-width="2.8" stroke-linecap="butt"/>
<line x1="1112.8" y1="2115.1" x2="1643.6" y2="2115.1" stroke="#000" stroke-width="2.8" stroke-linecap="butt"/>
<line x1="1112.8" y1="2115.1" x2="1121.5" y2="2115.1" stroke="#000" stroke-width="2.8" stroke-linecap="butt"/>
<line x1="1112.8" y1="1941.6" x2="1121.5" y2="1941.6" stroke="#000" stroke-width="2.8" stroke-linecap="butt"/>
<line x1="1112.8" y1="1768.1" x2="1121.5" y2="1768.1" stroke="#000" stroke-width="2.8" stroke-linecap="butt"/>
<line x1="1157" y1="2115.1" x2="1157" y2="2123.1" stroke="#000" stroke-width="2.8" stroke-linecap="butt"/>
<text transform="translate(1148.22,2156.8)" font-size="30" fill="#000">1</text>
<line x1="1213.06" y1="2115.1" x2="1213.06" y2="2123.1" stroke="#000" stroke-width="2.8" stroke-linecap="butt"/>
<text transform="translate(1204.73,2156.8)" font-size="30" fill="#000">3</text>
<line x1="1269.12" y1="2115.1" x2="1269.12" y2="2123.1" stroke="#000" stroke-width="2.8" stroke-linecap="butt"/>
<text transform="translate(1260.79,2156.8)" font-size="30" fill="#000">7</text>
<line x1="1325.18" y1="2115.1" x2="1325.18" y2="2123.1" stroke="#000" stroke-width="2.8" stroke-linecap="butt"/>
<text transform="translate(1307.93,2156.8)" font-size="30" fill="#000">10</text>
<line x1="1381.24" y1="2115.1" x2="1381.24" y2="2123.1" stroke="#000" stroke-width="2.8" stroke-linecap="butt"/>
<text transform="translate(1363.91,2156.8)" font-size="30" fill="#000">14</text>
<line x1="1437.3" y1="2115.1" x2="1437.3" y2="2123.1" stroke="#000" stroke-width="2.8" stroke-linecap="butt"/>
<text transform="translate(1420.12,2156.8)" font-size="30" fill="#000">18</text>
<line x1="1493.36" y1="2115.1" x2="1493.36" y2="2123.1" stroke="#000" stroke-width="2.8" stroke-linecap="butt"/>
<text transform="translate(1476.64,2156.8)" font-size="30" fill="#000">21</text>
<line x1="1549.42" y1="2115.1" x2="1549.42" y2="2123.1" stroke="#000" stroke-width="2.8" stroke-linecap="butt"/>
<text transform="translate(1532.47,2156.8)" font-size="30" fill="#000">24</text>
<line x1="1605.48" y1="2115.1" x2="1605.48" y2="2123.1" stroke="#000" stroke-width="2.8" stroke-linecap="butt"/>
<text transform="translate(1588.68,2156.8)" font-size="30" fill="#000">28</text>
<text transform="translate(1057.14,1777.6) scale(0.9500,1)" font-size="30" fill="#000">150</text>
<text transform="translate(1057.14,1951.1) scale(0.9500,1)" font-size="30" fill="#000">100</text>
<text transform="translate(1072.96,2124.6) scale(0.9500,1)" font-size="30" fill="#000">50</text>
<text transform="translate(1268.98,2222.1) scale(1.0079,1)" font-size="27.59" fill="#000">Day of treatment</text>
<text transform="translate(1027.2,2111.5) rotate(-90) translate(-2.22,0) scale(0.9703,1)" font-size="28.55" fill="#000">Relative weight to day 0 (%)</text>
<line x1="1662.7" y1="1710.2" x2="1703.8" y2="1710.2" stroke="#000" stroke-width="3" stroke-linecap="butt"/>
<circle cx="1683.25" cy="1710.2" r="5" fill="#000"/>
<line x1="1662.7" y1="1750.9" x2="1703.8" y2="1750.9" stroke="#a9a9d9" stroke-width="2.6" stroke-linecap="butt"/>
<circle cx="1683.25" cy="1750.9" r="5" fill="#a9a9d9"/>
<line x1="1662.7" y1="1792.8" x2="1703.8" y2="1792.8" stroke="#f7cd74" stroke-width="2.6" stroke-linecap="butt"/>
<circle cx="1683.25" cy="1792.8" r="5" fill="#f7cd74"/>
<line x1="1662.7" y1="1828.1" x2="1703.8" y2="1828.1" stroke="#a8a8a8" stroke-width="2.6" stroke-linecap="butt"/>
<circle cx="1683.25" cy="1828.1" r="5" fill="#a8a8a8"/>
<line x1="1662.7" y1="1875.1" x2="1703.8" y2="1875.1" stroke="#a8252b" stroke-width="2.6" stroke-linecap="butt"/>
<circle cx="1683.25" cy="1875.1" r="5" fill="#a8252b"/>
<line x1="1662.7" y1="1950.2" x2="1703.8" y2="1950.2" stroke="#16794a" stroke-width="2.6" stroke-linecap="butt"/>
<circle cx="1683.25" cy="1950.2" r="5" fill="#16794a"/>
<text transform="translate(1712.36,1720.4) scale(1.0065,1)" font-size="27.72" fill="#000">Vehicle</text>
<text transform="translate(1710.26,1759.6) scale(1.0335,1)" font-size="28.41" fill="#000">Infigratinib</text>
<text transform="translate(1710.66,1800.7) scale(1.0061,1)" font-size="27.86" fill="#000">Everolimus</text>
<text transform="translate(1708.35,1838.7)" font-size="29" fill="#000">CA3</text>
<text transform="translate(1710.26,1886.9) scale(1.0385,1)" font-size="28.28" fill="#000">Infigratinib</text>
<text transform="translate(1711.1,1921.7) scale(0.9910,1)" font-size="28.28" fill="#000">+everolimus</text>
<text transform="translate(1710.26,1962.1) scale(1.0335,1)" font-size="28.41" fill="#000">Infigratinib</text>
<text transform="translate(1711.07,1996.1) scale(1.0187,1)" font-size="28" fill="#000">+CA3</text>
</svg>
</body></html>
